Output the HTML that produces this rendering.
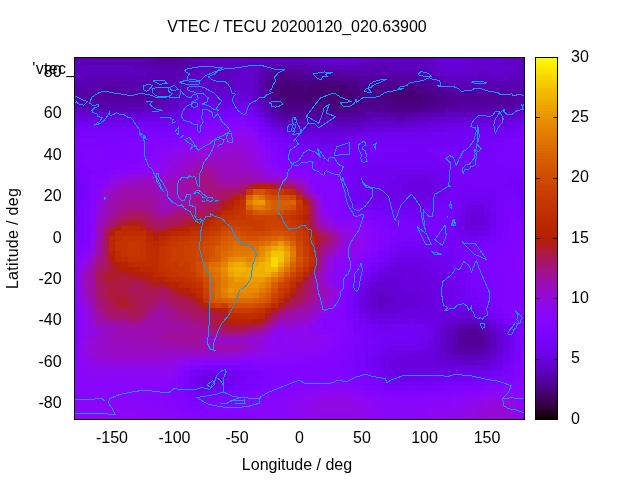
<!DOCTYPE html>
<html><head><meta charset="utf-8"><title>VTEC / TECU 20200120_020.63900</title>
<style>
html,body{margin:0;padding:0;background:#fff;}
body{width:640px;height:480px;overflow:hidden;}
svg{display:block}
text{font-family:"Liberation Sans",Arial,sans-serif;font-size:16px;fill:#000}
</style></head><body>
<svg width="640" height="480" viewBox="0 0 640 480">
<rect width="640" height="480" fill="#fff"/>
<text x="32.3" y="73.5" letter-spacing="0.35">'vtec_</text>
<g shape-rendering="crispEdges">
<path fill="#460074" d="M284 81h6v5h-6zM278 86h25v5h-25zM309 86h37v5h-37zM278 91h75v5h-75zM396 91h19v5h-19zM284 96h69v5h-69zM396 96h25v5h-25zM328 101h18v6h-18z"/>
<path fill="#4a007f" d="M278 76h12v5h-12zM271 81h13v5h-13zM290 81h56v5h-56zM271 86h7v5h-7zM303 86h6v5h-6zM346 86h13v5h-13zM396 86h19v5h-19zM271 91h7v5h-7zM353 91h12v5h-12zM384 91h12v5h-12zM415 91h13v5h-13zM278 96h6v5h-6zM353 96h12v5h-12zM378 96h18v5h-18zM421 96h13v5h-13zM278 101h50v6h-50zM346 101h13v6h-13zM390 101h38v6h-38zM334 107h12v5h-12z"/>
<path fill="#4d008b" d="M271 76h7v5h-7zM290 76h44v5h-44zM346 81h13v5h-13zM359 86h37v5h-37zM415 86h13v5h-13zM365 91h19v5h-19zM428 91h12v5h-12zM271 96h7v5h-7zM365 96h13v5h-13zM434 96h12v5h-12zM359 101h31v6h-31zM428 101h12v6h-12zM278 107h56v5h-56zM346 107h13v5h-13zM390 107h31v5h-31z"/>
<path fill="#510096" d="M271 70h32v6h-32zM334 76h25v5h-25zM265 81h6v5h-6zM359 81h69v5h-69zM265 86h6v5h-6zM428 86h12v5h-12zM265 91h6v5h-6zM440 91h13v5h-13zM446 96h57v5h-57zM271 101h7v6h-7zM440 101h19v6h-19zM359 107h31v5h-31zM421 107h13v5h-13zM284 112h75v5h-75zM465 329h13v5h-13zM465 334h19v5h-19zM465 339h19v6h-19z"/>
<path fill="#5400a0" d="M153 57h31v3h-31zM153 60h31v5h-31zM303 70h37v6h-37zM265 76h6v5h-6zM359 76h62v5h-62zM428 81h6v5h-6zM103 86h18v5h-18zM440 86h6v5h-6zM84 91h75v5h-75zM453 91h62v5h-62zM84 96h75v5h-75zM265 96h6v5h-6zM503 96h12v5h-12zM459 101h56v6h-56zM271 107h7v5h-7zM434 107h12v5h-12zM278 112h6v5h-6zM359 112h6v5h-6zM390 112h25v5h-25zM459 329h6v5h-6zM478 329h6v5h-6zM459 334h6v5h-6zM459 339h6v6h-6zM459 345h25v5h-25z"/>
<path fill="#5700ab" d="M84 57h69v3h-69zM184 57h12v3h-12zM84 60h69v5h-69zM184 60h12v5h-12zM159 65h25v5h-25zM271 65h38v5h-38zM265 70h6v6h-6zM340 70h75v6h-75zM421 76h7v5h-7zM90 81h75v5h-75zM259 81h6v5h-6zM434 81h6v5h-6zM78 86h25v5h-25zM121 86h50v5h-50zM259 86h6v5h-6zM446 86h75v5h-75zM74 91h10v5h-10zM159 91h12v5h-12zM515 91h10v5h-10zM74 96h10v5h-10zM159 96h6v5h-6zM515 96h10v5h-10zM84 101h75v6h-75zM265 101h6v6h-6zM515 101h6v6h-6zM446 107h63v5h-63zM365 112h25v5h-25zM415 112h13v5h-13zM284 117h75v5h-75zM465 324h13v5h-13zM453 334h6v5h-6zM484 334h6v5h-6zM453 339h6v6h-6zM484 339h6v6h-6zM453 345h6v5h-6zM484 345h6v5h-6zM459 350h19v5h-19z"/>
<path fill="#5a00b4" d="M74 57h10v3h-10zM196 57h7v3h-7zM521 57h4v3h-4zM74 60h10v5h-10zM196 60h7v5h-7zM521 60h4v5h-4zM134 65h25v5h-25zM184 65h12v5h-12zM265 65h6v5h-6zM309 65h25v5h-25zM365 65h25v5h-25zM146 70h38v6h-38zM259 70h6v6h-6zM415 70h13v6h-13zM84 76h94v5h-94zM259 76h6v5h-6zM428 76h12v5h-12zM74 81h16v5h-16zM165 81h13v5h-13zM440 81h85v5h-85zM74 86h4v5h-4zM171 86h7v5h-7zM521 86h4v5h-4zM171 91h7v5h-7zM259 91h6v5h-6zM165 96h6v5h-6zM259 96h6v5h-6zM74 101h10v6h-10zM159 101h6v6h-6zM521 101h4v6h-4zM96 107h32v5h-32zM265 107h6v5h-6zM509 107h6v5h-6zM271 112h7v5h-7zM428 112h18v5h-18zM278 117h6v5h-6zM359 117h12v5h-12zM396 117h7v5h-7zM459 324h6v5h-6zM478 324h6v5h-6zM453 329h6v5h-6zM484 329h6v5h-6zM453 350h6v5h-6zM478 350h6v5h-6z"/>
<path fill="#5d01be" d="M203 57h12v3h-12zM246 57h63v3h-63zM371 57h57v3h-57zM515 57h6v3h-6zM203 60h12v5h-12zM246 60h63v5h-63zM371 60h57v5h-57zM515 60h6v5h-6zM74 65h60v5h-60zM196 65h25v5h-25zM259 65h6v5h-6zM334 65h31v5h-31zM390 65h38v5h-38zM521 65h4v5h-4zM74 70h72v6h-72zM184 70h12v6h-12zM209 70h19v6h-19zM428 70h6v6h-6zM521 70h4v6h-4zM74 76h10v5h-10zM178 76h12v5h-12zM215 76h13v5h-13zM440 76h6v5h-6zM478 76h18v5h-18zM509 76h16v5h-16zM178 81h6v5h-6zM221 81h7v5h-7zM178 86h6v5h-6zM171 96h7v5h-7zM165 101h6v6h-6zM259 101h6v6h-6zM78 107h18v5h-18zM128 107h31v5h-31zM515 107h6v5h-6zM446 112h57v5h-57zM371 117h25v5h-25zM403 117h18v5h-18zM284 122h75v5h-75zM453 324h6v5h-6zM446 329h7v5h-7zM446 334h7v5h-7zM490 334h6v5h-6zM446 339h7v6h-7zM490 339h6v6h-6zM446 345h7v5h-7zM490 345h6v5h-6zM446 350h7v5h-7zM484 350h6v5h-6zM459 355h25v5h-25z"/>
<path fill="#6001c6" d="M215 57h31v3h-31zM309 57h12v3h-12zM359 57h12v3h-12zM428 57h6v3h-6zM503 57h12v3h-12zM215 60h31v5h-31zM309 60h12v5h-12zM359 60h12v5h-12zM428 60h6v5h-6zM503 60h12v5h-12zM221 65h38v5h-38zM428 65h6v5h-6zM515 65h6v5h-6zM196 70h13v6h-13zM228 70h12v6h-12zM253 70h6v6h-6zM434 70h6v6h-6zM478 70h12v6h-12zM503 70h18v6h-18zM190 76h25v5h-25zM228 76h6v5h-6zM253 76h6v5h-6zM446 76h32v5h-32zM496 76h13v5h-13zM184 81h6v5h-6zM209 81h12v5h-12zM228 81h6v5h-6zM253 81h6v5h-6zM184 86h6v5h-6zM215 86h19v5h-19zM253 86h6v5h-6zM178 91h6v5h-6zM253 91h6v5h-6zM178 96h6v5h-6zM171 101h7v6h-7zM74 107h4v5h-4zM159 107h12v5h-12zM521 107h4v5h-4zM265 112h6v5h-6zM503 112h12v5h-12zM271 117h7v5h-7zM421 117h13v5h-13zM278 122h6v5h-6zM359 122h6v5h-6zM378 293h6v5h-6zM378 298h12v5h-12zM378 303h6v5h-6zM459 319h19v5h-19zM446 324h7v5h-7zM484 324h6v5h-6zM490 329h6v5h-6zM440 345h6v5h-6zM490 350h6v5h-6zM446 355h13v5h-13zM484 355h6v5h-6zM465 360h13v5h-13z"/>
<path fill="#6301ce" d="M321 57h38v3h-38zM434 57h6v3h-6zM465 57h38v3h-38zM321 60h38v5h-38zM434 60h6v5h-6zM465 60h38v5h-38zM434 65h6v5h-6zM471 65h44v5h-44zM240 70h13v6h-13zM440 70h38v6h-38zM490 70h13v6h-13zM234 76h19v5h-19zM190 81h19v5h-19zM234 81h19v5h-19zM190 86h6v5h-6zM203 86h12v5h-12zM234 86h19v5h-19zM184 91h6v5h-6zM215 91h19v5h-19zM253 96h6v5h-6zM178 101h6v6h-6zM171 107h7v5h-7zM259 107h6v5h-6zM84 112h56v5h-56zM515 112h6v5h-6zM434 117h19v5h-19zM365 122h50v5h-50zM296 127h57v5h-57zM371 288h19v5h-19zM371 293h7v5h-7zM384 293h12v5h-12zM371 298h7v5h-7zM390 298h6v5h-6zM371 303h7v5h-7zM384 303h12v5h-12zM378 308h12v5h-12zM453 319h6v5h-6zM478 319h6v5h-6zM440 329h6v5h-6zM440 334h6v5h-6zM496 334h7v5h-7zM440 339h6v6h-6zM496 339h7v6h-7zM496 345h7v5h-7zM440 350h6v5h-6zM440 355h6v5h-6zM490 355h6v5h-6zM453 360h12v5h-12zM478 360h6v5h-6z"/>
<path fill="#6501d6" d="M440 57h25v3h-25zM440 60h25v5h-25zM440 65h31v5h-31zM196 86h7v5h-7zM190 91h6v5h-6zM203 91h12v5h-12zM234 91h19v5h-19zM184 96h6v5h-6zM215 96h19v5h-19zM246 96h7v5h-7zM253 101h6v6h-6zM74 112h10v5h-10zM140 112h31v5h-31zM521 112h4v5h-4zM265 117h6v5h-6zM453 117h56v5h-56zM271 122h7v5h-7zM415 122h13v5h-13zM284 127h12v5h-12zM353 127h12v5h-12zM471 215h7v5h-7zM471 220h7v6h-7zM384 277h19v5h-19zM371 282h32v6h-32zM390 288h13v5h-13zM365 293h6v5h-6zM396 293h25v5h-25zM365 298h6v5h-6zM396 298h25v5h-25zM365 303h6v5h-6zM396 303h25v5h-25zM371 308h7v5h-7zM390 308h13v5h-13zM459 313h12v6h-12zM446 319h7v5h-7zM484 319h6v5h-6zM440 324h6v5h-6zM490 324h6v5h-6zM496 329h7v5h-7zM434 345h6v5h-6zM434 350h6v5h-6zM496 350h7v5h-7zM434 355h6v5h-6zM434 360h19v5h-19zM484 360h6v5h-6z"/>
<path fill="#6801dd" d="M196 91h7v5h-7zM190 96h6v5h-6zM209 96h6v5h-6zM234 96h12v5h-12zM184 101h6v6h-6zM178 107h6v5h-6zM171 112h7v5h-7zM259 112h6v5h-6zM509 117h12v5h-12zM428 122h12v5h-12zM278 127h6v5h-6zM365 127h38v5h-38zM303 132h43v6h-43zM471 210h13v5h-13zM465 215h6v5h-6zM478 215h6v5h-6zM465 220h6v6h-6zM478 220h6v6h-6zM465 226h19v5h-19zM390 267h25v5h-25zM384 272h37v5h-37zM378 277h6v5h-6zM403 277h18v5h-18zM403 282h25v6h-25zM365 288h6v5h-6zM403 288h31v5h-31zM421 293h13v5h-13zM421 298h13v5h-13zM421 303h13v5h-13zM365 308h6v5h-6zM403 308h31v5h-31zM371 313h25v6h-25zM440 313h19v6h-19zM471 313h7v6h-7zM440 319h6v5h-6zM434 329h6v5h-6zM434 334h6v5h-6zM434 339h6v6h-6zM428 350h6v5h-6zM409 355h25v5h-25zM496 355h7v5h-7zM396 360h38v5h-38zM490 360h6v5h-6zM396 365h94v5h-94zM403 370h12v6h-12z"/>
<path fill="#6b01e3" d="M196 96h13v5h-13zM190 101h6v6h-6zM215 101h25v6h-25zM246 101h7v6h-7zM184 107h6v5h-6zM253 107h6v5h-6zM178 112h6v5h-6zM74 117h66v5h-66zM521 117h4v5h-4zM440 122h63v5h-63zM403 127h25v5h-25zM290 132h13v6h-13zM346 132h13v6h-13zM321 138h7v5h-7zM409 179h19v5h-19zM403 184h31v5h-31zM403 189h31v6h-31zM409 195h19v5h-19zM471 205h13v5h-13zM465 210h6v5h-6zM484 215h6v5h-6zM484 220h6v6h-6zM471 231h7v5h-7zM396 262h25v5h-25zM384 267h6v5h-6zM415 267h13v5h-13zM378 272h6v5h-6zM421 272h13v5h-13zM371 277h7v5h-7zM421 277h19v5h-19zM365 282h6v6h-6zM428 282h12v6h-12zM434 288h6v5h-6zM359 293h6v5h-6zM434 293h6v5h-6zM359 298h6v5h-6zM434 298h12v5h-12zM359 303h6v5h-6zM434 303h12v5h-12zM434 308h37v5h-37zM396 313h44v6h-44zM478 313h6v6h-6zM378 319h12v5h-12zM428 319h12v5h-12zM490 319h6v5h-6zM434 324h6v5h-6zM496 324h7v5h-7zM503 334h6v5h-6zM428 339h6v6h-6zM503 339h6v6h-6zM428 345h6v5h-6zM503 345h6v5h-6zM415 350h13v5h-13zM396 355h13v5h-13zM390 360h6v5h-6zM496 360h7v5h-7zM390 365h6v5h-6zM490 365h6v5h-6zM390 370h13v6h-13zM415 370h19v6h-19zM203 376h18v5h-18zM203 381h12v5h-12z"/>
<path fill="#6d02e9" d="M196 101h19v6h-19zM240 101h6v6h-6zM190 107h6v5h-6zM140 117h38v5h-38zM265 122h6v5h-6zM503 122h12v5h-12zM271 127h7v5h-7zM428 127h18v5h-18zM284 132h6v6h-6zM359 132h19v6h-19zM303 138h18v5h-18zM328 138h18v5h-18zM396 174h32v5h-32zM390 179h19v5h-19zM428 179h6v5h-6zM384 184h19v5h-19zM434 184h6v5h-6zM378 189h25v6h-25zM434 189h6v6h-6zM384 195h25v5h-25zM428 195h6v5h-6zM403 200h25v5h-25zM465 205h6v5h-6zM484 210h6v5h-6zM459 215h6v5h-6zM459 220h6v6h-6zM459 226h6v5h-6zM484 226h6v5h-6zM465 231h6v5h-6zM478 231h6v5h-6zM396 257h32v5h-32zM390 262h6v5h-6zM421 262h13v5h-13zM428 267h12v5h-12zM371 272h7v5h-7zM434 272h12v5h-12zM440 277h6v5h-6zM440 282h13v6h-13zM359 288h6v5h-6zM440 288h13v5h-13zM440 293h13v5h-13zM446 298h7v5h-7zM446 303h13v5h-13zM359 308h6v5h-6zM471 308h7v5h-7zM365 313h6v6h-6zM484 313h6v6h-6zM371 319h7v5h-7zM390 319h19v5h-19zM415 319h13v5h-13zM428 324h6v5h-6zM428 329h6v5h-6zM503 329h6v5h-6zM428 334h6v5h-6zM421 345h7v5h-7zM390 350h25v5h-25zM503 350h6v5h-6zM384 355h12v5h-12zM503 355h6v5h-6zM384 360h6v5h-6zM384 365h6v5h-6zM384 370h6v6h-6zM434 370h50v6h-50zM221 376h7v5h-7zM396 376h25v5h-25zM196 381h7v5h-7zM215 381h13v5h-13zM203 386h6v5h-6z"/>
<path fill="#7002ee" d="M196 107h7v5h-7zM215 107h13v5h-13zM246 107h7v5h-7zM184 112h6v5h-6zM253 112h6v5h-6zM178 117h6v5h-6zM259 117h6v5h-6zM103 122h18v5h-18zM515 122h6v5h-6zM446 127h63v5h-63zM278 132h6v6h-6zM378 132h56v6h-56zM296 138h7v5h-7zM346 138h19v5h-19zM315 143h25v5h-25zM365 169h6v5h-6zM378 169h56v5h-56zM359 174h37v5h-37zM428 174h12v5h-12zM359 179h31v5h-31zM434 179h12v5h-12zM359 184h25v5h-25zM440 184h6v5h-6zM359 189h19v6h-19zM440 189h6v6h-6zM365 195h19v5h-19zM434 195h6v5h-6zM371 200h32v5h-32zM428 200h6v5h-6zM465 200h25v5h-25zM403 205h25v5h-25zM459 205h6v5h-6zM484 205h6v5h-6zM459 210h6v5h-6zM490 215h6v5h-6zM459 231h6v5h-6zM484 231h6v5h-6zM465 236h13v5h-13zM396 251h38v6h-38zM390 257h6v5h-6zM428 257h12v5h-12zM384 262h6v5h-6zM434 262h12v5h-12zM378 267h6v5h-6zM440 267h13v5h-13zM446 272h7v5h-7zM365 277h6v5h-6zM446 277h7v5h-7zM359 282h6v6h-6zM453 282h6v6h-6zM453 288h6v5h-6zM453 293h6v5h-6zM453 298h6v5h-6zM459 303h12v5h-12zM478 308h6v5h-6zM359 313h6v6h-6zM365 319h6v5h-6zM409 319h6v5h-6zM378 324h18v5h-18zM421 324h7v5h-7zM421 334h7v5h-7zM421 339h7v6h-7zM390 345h31v5h-31zM384 350h6v5h-6zM378 355h6v5h-6zM378 360h6v5h-6zM503 360h6v5h-6zM378 365h6v5h-6zM496 365h7v5h-7zM203 370h18v6h-18zM484 370h6v6h-6zM196 376h7v5h-7zM228 376h6v5h-6zM390 376h6v5h-6zM421 376h19v5h-19zM196 386h7v5h-7zM209 386h12v5h-12z"/>
<path fill="#7202f3" d="M203 107h12v5h-12zM228 107h18v5h-18zM190 112h6v5h-6zM184 117h6v5h-6zM74 122h29v5h-29zM121 122h19v5h-19zM521 122h4v5h-4zM509 127h6v5h-6zM434 132h69v6h-69zM290 138h6v5h-6zM365 138h69v5h-69zM303 143h12v5h-12zM340 143h19v5h-19zM359 158h6v6h-6zM353 164h81v5h-81zM353 169h12v5h-12zM371 169h7v5h-7zM434 169h6v5h-6zM353 174h6v5h-6zM440 174h6v5h-6zM353 179h6v5h-6zM446 179h7v5h-7zM353 184h6v5h-6zM446 184h7v5h-7zM353 189h6v6h-6zM446 189h7v6h-7zM353 195h12v5h-12zM440 195h6v5h-6zM459 195h31v5h-31zM359 200h12v5h-12zM434 200h6v5h-6zM459 200h6v5h-6zM490 200h6v5h-6zM371 205h32v5h-32zM428 205h6v5h-6zM490 205h6v5h-6zM403 210h25v5h-25zM453 210h6v5h-6zM490 210h6v5h-6zM453 215h6v5h-6zM453 220h6v6h-6zM490 220h6v6h-6zM453 226h6v5h-6zM490 226h6v5h-6zM453 231h6v5h-6zM459 236h6v5h-6zM478 236h6v5h-6zM403 246h31v5h-31zM434 251h12v6h-12zM440 257h13v5h-13zM378 262h6v5h-6zM446 262h7v5h-7zM371 267h7v5h-7zM453 267h6v5h-6zM453 272h6v5h-6zM453 277h6v5h-6zM353 288h6v5h-6zM459 288h6v5h-6zM353 293h6v5h-6zM459 293h6v5h-6zM353 298h6v5h-6zM459 298h12v5h-12zM353 303h6v5h-6zM471 303h7v5h-7zM490 313h6v6h-6zM496 319h7v5h-7zM371 324h7v5h-7zM396 324h25v5h-25zM503 324h6v5h-6zM378 329h12v5h-12zM415 329h13v5h-13zM415 334h6v5h-6zM509 334h6v5h-6zM390 339h31v6h-31zM509 339h6v6h-6zM378 345h12v5h-12zM509 345h6v5h-6zM378 350h6v5h-6zM509 350h6v5h-6zM371 355h7v5h-7zM371 360h7v5h-7zM371 365h7v5h-7zM221 370h13v6h-13zM378 370h6v6h-6zM490 370h6v6h-6zM234 376h6v5h-6zM384 376h6v5h-6zM440 376h25v5h-25zM190 381h6v5h-6zM228 381h6v5h-6zM403 381h12v5h-12zM221 386h7v5h-7z"/>
<path fill="#7402f6" d="M196 112h7v5h-7zM140 122h44v5h-44zM259 122h6v5h-6zM265 127h6v5h-6zM515 127h6v5h-6zM271 132h7v6h-7zM503 132h12v6h-12zM284 138h6v5h-6zM434 138h69v5h-69zM296 143h7v5h-7zM359 143h131v5h-131zM309 148h62v5h-62zM409 148h19v5h-19zM459 148h19v5h-19zM340 153h94v5h-94zM346 158h13v6h-13zM365 158h75v6h-75zM346 164h7v5h-7zM434 164h12v5h-12zM346 169h7v5h-7zM440 169h19v5h-19zM346 174h7v5h-7zM446 174h13v5h-13zM74 179h4v5h-4zM346 179h7v5h-7zM453 179h12v5h-12zM509 179h16v5h-16zM74 184h4v5h-4zM346 184h7v5h-7zM453 184h18v5h-18zM503 184h22v5h-22zM74 189h4v6h-4zM346 189h7v6h-7zM453 189h43v6h-43zM515 189h10v6h-10zM74 195h4v5h-4zM346 195h7v5h-7zM446 195h13v5h-13zM490 195h6v5h-6zM521 195h4v5h-4zM74 200h4v5h-4zM346 200h13v5h-13zM440 200h19v5h-19zM521 200h4v5h-4zM74 205h4v5h-4zM365 205h6v5h-6zM434 205h6v5h-6zM453 205h6v5h-6zM521 205h4v5h-4zM384 210h19v5h-19zM428 210h6v5h-6zM409 215h12v5h-12zM490 231h6v5h-6zM453 236h6v5h-6zM484 236h6v5h-6zM403 241h68v5h-68zM396 246h7v5h-7zM434 246h19v5h-19zM390 251h6v6h-6zM446 251h7v6h-7zM384 257h6v5h-6zM453 257h6v5h-6zM453 262h6v5h-6zM459 267h6v5h-6zM365 272h6v5h-6zM459 272h6v5h-6zM359 277h6v5h-6zM459 277h6v5h-6zM459 282h6v6h-6zM465 288h6v5h-6zM465 293h6v5h-6zM471 298h7v5h-7zM478 303h6v5h-6zM353 308h6v5h-6zM484 308h6v5h-6zM359 319h6v5h-6zM365 324h6v5h-6zM371 329h7v5h-7zM390 329h25v5h-25zM509 329h6v5h-6zM371 334h44v5h-44zM378 339h12v6h-12zM371 345h7v5h-7zM371 350h7v5h-7zM365 355h6v5h-6zM509 355h6v5h-6zM365 360h6v5h-6zM365 365h6v5h-6zM503 365h6v5h-6zM196 370h7v6h-7zM234 370h6v6h-6zM371 370h7v6h-7zM496 370h7v6h-7zM190 376h6v5h-6zM240 376h6v5h-6zM378 376h6v5h-6zM465 376h19v5h-19zM234 381h6v5h-6zM390 381h13v5h-13zM415 381h19v5h-19zM190 386h6v5h-6zM228 386h6v5h-6zM196 391h19v5h-19z"/>
<path fill="#7703f9" d="M203 112h25v5h-25zM246 112h7v5h-7zM190 117h6v5h-6zM253 117h6v5h-6zM74 127h60v5h-60zM521 127h4v5h-4zM515 132h6v6h-6zM278 138h6v5h-6zM503 138h6v5h-6zM290 143h6v5h-6zM490 143h13v5h-13zM296 148h13v5h-13zM371 148h38v5h-38zM428 148h31v5h-31zM478 148h25v5h-25zM321 153h19v5h-19zM434 153h62v5h-62zM334 158h12v6h-12zM440 158h56v6h-56zM340 164h6v5h-6zM446 164h57v5h-57zM74 169h4v5h-4zM340 169h6v5h-6zM459 169h66v5h-66zM74 174h4v5h-4zM459 174h66v5h-66zM78 179h6v5h-6zM465 179h44v5h-44zM78 184h6v5h-6zM471 184h32v5h-32zM78 189h6v6h-6zM496 189h19v6h-19zM78 195h6v5h-6zM496 195h25v5h-25zM496 200h13v5h-13zM515 200h6v5h-6zM353 205h12v5h-12zM440 205h13v5h-13zM496 205h7v5h-7zM74 210h4v5h-4zM371 210h13v5h-13zM434 210h19v5h-19zM496 210h7v5h-7zM521 210h4v5h-4zM74 215h4v5h-4zM390 215h19v5h-19zM421 215h32v5h-32zM496 215h7v5h-7zM521 215h4v5h-4zM409 220h19v6h-19zM446 220h7v6h-7zM496 220h7v6h-7zM446 226h7v5h-7zM496 226h7v5h-7zM440 231h13v5h-13zM403 236h50v5h-50zM490 236h6v5h-6zM396 241h7v5h-7zM471 241h13v5h-13zM390 246h6v5h-6zM453 246h12v5h-12zM384 251h6v6h-6zM453 251h12v6h-12zM378 257h6v5h-6zM459 257h6v5h-6zM371 262h7v5h-7zM459 262h6v5h-6zM465 267h6v5h-6zM465 272h6v5h-6zM465 277h6v5h-6zM353 282h6v6h-6zM465 282h6v6h-6zM471 288h7v5h-7zM471 293h7v5h-7zM478 298h6v5h-6zM484 303h6v5h-6zM490 308h6v5h-6zM353 313h6v6h-6zM496 313h7v6h-7zM503 319h6v5h-6zM359 324h6v5h-6zM509 324h6v5h-6zM365 329h6v5h-6zM365 334h6v5h-6zM365 339h13v6h-13zM365 345h6v5h-6zM365 350h6v5h-6zM359 360h6v5h-6zM509 360h6v5h-6zM240 370h6v6h-6zM365 370h6v6h-6zM503 370h6v6h-6zM246 376h7v5h-7zM371 376h7v5h-7zM484 376h12v5h-12zM240 381h6v5h-6zM384 381h6v5h-6zM434 381h19v5h-19zM234 386h6v5h-6zM190 391h6v5h-6zM215 391h6v5h-6z"/>
<path fill="#7903fc" d="M228 112h18v5h-18zM196 117h7v5h-7zM184 122h6v5h-6zM134 127h44v5h-44zM74 132h4v6h-4zM90 132h38v6h-38zM521 132h4v6h-4zM509 138h12v5h-12zM284 143h6v5h-6zM503 143h12v5h-12zM290 148h6v5h-6zM503 148h6v5h-6zM296 153h25v5h-25zM496 153h13v5h-13zM328 158h6v6h-6zM496 158h19v6h-19zM74 164h4v5h-4zM334 164h6v5h-6zM503 164h22v5h-22zM78 169h6v5h-6zM78 174h6v5h-6zM84 179h6v5h-6zM84 184h6v5h-6zM78 200h6v5h-6zM509 200h6v5h-6zM78 205h6v5h-6zM346 205h7v5h-7zM503 205h18v5h-18zM78 210h6v5h-6zM365 210h6v5h-6zM503 210h6v5h-6zM78 215h6v5h-6zM378 215h12v5h-12zM74 220h10v6h-10zM396 220h13v6h-13zM428 220h18v6h-18zM521 220h4v6h-4zM78 226h6v5h-6zM403 226h43v5h-43zM403 231h37v5h-37zM496 231h7v5h-7zM396 236h7v5h-7zM390 241h6v5h-6zM484 241h6v5h-6zM465 246h13v5h-13zM465 251h6v6h-6zM465 257h6v5h-6zM465 262h6v5h-6zM365 267h6v5h-6zM471 267h7v5h-7zM359 272h6v5h-6zM471 272h7v5h-7zM471 277h7v5h-7zM471 282h13v6h-13zM478 288h6v5h-6zM346 293h7v5h-7zM478 293h6v5h-6zM346 298h7v5h-7zM484 298h6v5h-6zM346 303h7v5h-7zM353 319h6v5h-6zM359 329h6v5h-6zM359 334h6v5h-6zM515 334h6v5h-6zM359 339h6v6h-6zM515 339h6v6h-6zM359 345h6v5h-6zM515 345h6v5h-6zM359 350h6v5h-6zM359 355h6v5h-6zM209 365h19v5h-19zM359 365h6v5h-6zM509 365h6v5h-6zM190 370h6v6h-6zM246 370h7v6h-7zM359 370h6v6h-6zM253 376h6v5h-6zM365 376h6v5h-6zM496 376h7v5h-7zM184 381h6v5h-6zM246 381h7v5h-7zM378 381h6v5h-6zM453 381h18v5h-18zM184 386h6v5h-6zM240 386h6v5h-6zM396 386h32v5h-32zM221 391h7v5h-7zM196 396h13v5h-13z"/>
<path fill="#7b03fe" d="M203 117h12v5h-12zM246 117h7v5h-7zM190 122h6v5h-6zM178 127h6v5h-6zM259 127h6v5h-6zM78 132h12v6h-12zM128 132h12v6h-12zM265 132h6v6h-6zM96 138h25v5h-25zM271 138h7v5h-7zM278 143h6v5h-6zM515 143h6v5h-6zM284 148h6v5h-6zM509 148h12v5h-12zM290 153h6v5h-6zM509 153h12v5h-12zM74 158h4v6h-4zM303 158h25v6h-25zM515 158h10v6h-10zM78 164h6v5h-6zM328 164h6v5h-6zM84 169h6v5h-6zM334 169h6v5h-6zM84 174h6v5h-6zM84 189h6v6h-6zM84 195h6v5h-6zM359 210h6v5h-6zM509 210h12v5h-12zM371 215h7v5h-7zM503 215h6v5h-6zM515 215h6v5h-6zM384 220h12v6h-12zM503 220h6v6h-6zM74 226h4v5h-4zM390 226h13v5h-13zM503 226h6v5h-6zM521 226h4v5h-4zM78 231h6v5h-6zM396 231h7v5h-7zM78 236h6v5h-6zM390 236h6v5h-6zM496 236h7v5h-7zM490 241h6v5h-6zM384 246h6v5h-6zM478 246h12v5h-12zM378 251h6v6h-6zM471 251h7v6h-7zM471 257h7v5h-7zM471 262h13v5h-13zM478 267h6v5h-6zM478 272h12v5h-12zM353 277h6v5h-6zM478 277h12v5h-12zM484 282h6v6h-6zM346 288h7v5h-7zM484 288h6v5h-6zM484 293h6v5h-6zM490 298h6v5h-6zM490 303h6v5h-6zM346 308h7v5h-7zM496 308h7v5h-7zM346 313h7v6h-7zM503 313h6v6h-6zM509 319h6v5h-6zM353 324h6v5h-6zM353 329h6v5h-6zM515 329h6v5h-6zM353 345h6v5h-6zM353 350h6v5h-6zM515 350h6v5h-6zM353 355h6v5h-6zM515 355h6v5h-6zM353 360h6v5h-6zM203 365h6v5h-6zM228 365h12v5h-12zM353 365h6v5h-6zM253 370h6v6h-6zM353 370h6v6h-6zM509 370h6v6h-6zM184 376h6v5h-6zM259 376h6v5h-6zM253 381h6v5h-6zM371 381h7v5h-7zM471 381h13v5h-13zM246 386h7v5h-7zM384 386h12v5h-12zM428 386h18v5h-18zM184 391h6v5h-6zM228 391h6v5h-6zM190 396h6v5h-6zM209 396h12v5h-12z"/>
<path fill="#7d04ff" d="M215 117h13v5h-13zM196 122h7v5h-7zM253 122h6v5h-6zM184 127h6v5h-6zM140 132h31v6h-31zM74 138h22v5h-22zM121 138h19v5h-19zM521 138h4v5h-4zM74 143h54v5h-54zM521 143h4v5h-4zM74 148h4v5h-4zM103 148h25v5h-25zM278 148h6v5h-6zM521 148h4v5h-4zM74 153h10v5h-10zM109 153h12v5h-12zM284 153h6v5h-6zM521 153h4v5h-4zM78 158h6v6h-6zM290 158h13v6h-13zM84 164h6v5h-6zM321 164h7v5h-7zM90 169h6v5h-6zM328 169h6v5h-6zM340 174h6v5h-6zM340 179h6v5h-6zM340 184h6v5h-6zM340 189h6v6h-6zM340 195h6v5h-6zM84 200h6v5h-6zM340 200h6v5h-6zM340 205h6v5h-6zM346 210h13v5h-13zM365 215h6v5h-6zM509 215h6v5h-6zM378 220h6v6h-6zM509 220h12v6h-12zM384 226h6v5h-6zM74 231h4v5h-4zM390 231h6v5h-6zM503 231h6v5h-6zM521 231h4v5h-4zM503 236h6v5h-6zM78 241h6v5h-6zM384 241h6v5h-6zM496 241h13v5h-13zM490 246h13v5h-13zM478 251h18v6h-18zM371 257h7v5h-7zM478 257h18v5h-18zM365 262h6v5h-6zM484 262h12v5h-12zM359 267h6v5h-6zM484 267h12v5h-12zM490 272h13v5h-13zM490 277h13v5h-13zM346 282h7v6h-7zM490 282h13v6h-13zM490 288h13v5h-13zM490 293h13v5h-13zM496 298h7v5h-7zM496 303h7v5h-7zM346 319h7v5h-7zM515 324h6v5h-6zM353 334h6v5h-6zM353 339h6v6h-6zM346 350h7v5h-7zM346 355h7v5h-7zM340 360h13v5h-13zM515 360h6v5h-6zM196 365h7v5h-7zM240 365h13v5h-13zM340 365h13v5h-13zM259 370h12v6h-12zM346 370h7v6h-7zM265 376h6v5h-6zM359 376h6v5h-6zM503 376h6v5h-6zM259 381h12v5h-12zM365 381h6v5h-6zM484 381h12v5h-12zM253 386h6v5h-6zM378 386h6v5h-6zM446 386h13v5h-13zM234 391h12v5h-12zM184 396h6v5h-6zM221 396h7v5h-7zM190 401h19v6h-19z"/>
<path fill="#8004ff" d="M228 117h18v5h-18zM203 122h6v5h-6zM190 127h6v5h-6zM171 132h13v6h-13zM140 138h13v5h-13zM128 143h12v5h-12zM271 143h7v5h-7zM78 148h25v5h-25zM128 148h12v5h-12zM84 153h25v5h-25zM121 153h13v5h-13zM278 153h6v5h-6zM84 158h44v6h-44zM284 158h6v6h-6zM90 164h19v5h-19zM290 164h31v5h-31zM96 169h7v5h-7zM321 169h7v5h-7zM334 174h6v5h-6zM84 205h6v5h-6zM84 210h6v5h-6zM84 215h6v5h-6zM359 215h6v5h-6zM84 220h6v6h-6zM371 220h7v6h-7zM84 226h6v5h-6zM509 226h12v5h-12zM84 231h6v5h-6zM384 231h6v5h-6zM509 231h12v5h-12zM74 236h4v5h-4zM84 236h6v5h-6zM384 236h6v5h-6zM509 236h16v5h-16zM509 241h6v5h-6zM378 246h6v5h-6zM503 246h12v5h-12zM371 251h7v6h-7zM496 251h13v6h-13zM496 257h13v5h-13zM496 262h13v5h-13zM496 267h13v5h-13zM353 272h6v5h-6zM503 272h6v5h-6zM346 277h7v5h-7zM503 277h12v5h-12zM503 282h12v6h-12zM503 288h12v5h-12zM503 293h6v5h-6zM503 298h6v5h-6zM503 303h6v5h-6zM503 308h6v5h-6zM509 313h6v6h-6zM515 319h6v5h-6zM346 324h7v5h-7zM346 329h7v5h-7zM521 329h4v5h-4zM346 334h7v5h-7zM521 334h4v5h-4zM346 339h7v6h-7zM521 339h4v6h-4zM346 345h7v5h-7zM340 350h6v5h-6zM340 355h6v5h-6zM328 360h12v5h-12zM253 365h12v5h-12zM309 365h31v5h-31zM515 365h6v5h-6zM184 370h6v6h-6zM271 370h75v6h-75zM271 376h44v5h-44zM346 376h13v5h-13zM509 376h6v5h-6zM178 381h6v5h-6zM271 381h13v5h-13zM359 381h6v5h-6zM496 381h7v5h-7zM178 386h6v5h-6zM259 386h12v5h-12zM371 386h7v5h-7zM459 386h19v5h-19zM178 391h6v5h-6zM246 391h7v5h-7zM390 391h50v5h-50zM178 396h6v5h-6zM228 396h6v5h-6zM184 401h6v6h-6zM209 401h6v6h-6z"/>
<path fill="#8204ff" d="M209 122h12v5h-12zM246 122h7v5h-7zM196 127h7v5h-7zM253 127h6v5h-6zM184 132h6v6h-6zM259 132h6v6h-6zM153 138h18v5h-18zM265 138h6v5h-6zM140 143h13v5h-13zM140 148h6v5h-6zM271 148h7v5h-7zM134 153h6v5h-6zM128 158h12v6h-12zM278 158h6v6h-6zM109 164h19v5h-19zM284 164h6v5h-6zM103 169h6v5h-6zM309 169h12v5h-12zM90 174h13v5h-13zM328 174h6v5h-6zM90 179h6v5h-6zM90 184h6v5h-6zM90 189h6v6h-6zM90 195h6v5h-6zM340 210h6v5h-6zM353 215h6v5h-6zM378 226h6v5h-6zM378 231h6v5h-6zM74 241h4v5h-4zM84 241h6v5h-6zM378 241h6v5h-6zM515 241h10v5h-10zM78 246h6v5h-6zM515 246h6v5h-6zM509 251h6v6h-6zM365 257h6v5h-6zM509 257h6v5h-6zM359 262h6v5h-6zM509 262h6v5h-6zM509 267h6v5h-6zM509 272h6v5h-6zM515 277h6v5h-6zM515 282h6v6h-6zM515 288h10v5h-10zM340 293h6v5h-6zM509 293h16v5h-16zM340 298h6v5h-6zM509 298h6v5h-6zM340 303h6v5h-6zM509 303h6v5h-6zM340 308h6v5h-6zM509 308h6v5h-6zM340 313h6v6h-6zM515 313h6v6h-6zM521 319h4v5h-4zM521 324h4v5h-4zM340 339h6v6h-6zM340 345h6v5h-6zM521 345h4v5h-4zM334 350h6v5h-6zM521 350h4v5h-4zM328 355h12v5h-12zM315 360h13v5h-13zM190 365h6v5h-6zM265 365h44v5h-44zM515 370h6v6h-6zM178 376h6v5h-6zM315 376h31v5h-31zM284 381h25v5h-25zM353 381h6v5h-6zM503 381h6v5h-6zM271 386h13v5h-13zM365 386h6v5h-6zM478 386h6v5h-6zM171 391h7v5h-7zM253 391h12v5h-12zM378 391h12v5h-12zM440 391h13v5h-13zM171 396h7v5h-7zM234 396h12v5h-12zM178 401h6v6h-6zM215 401h6v6h-6zM184 407h25v5h-25z"/>
<path fill="#8405fe" d="M221 122h7v5h-7zM203 127h6v5h-6zM190 132h6v6h-6zM171 138h7v5h-7zM153 143h6v5h-6zM265 143h6v5h-6zM146 148h7v5h-7zM140 153h6v5h-6zM271 153h7v5h-7zM140 158h6v6h-6zM271 158h7v6h-7zM128 164h12v5h-12zM278 164h6v5h-6zM109 169h6v5h-6zM296 169h13v5h-13zM103 174h6v5h-6zM315 174h13v5h-13zM96 179h7v5h-7zM309 179h31v5h-31zM96 184h7v5h-7zM315 184h25v5h-25zM315 189h25v6h-25zM321 195h19v5h-19zM90 200h6v5h-6zM328 200h12v5h-12zM90 205h6v5h-6zM328 205h12v5h-12zM328 210h12v5h-12zM334 215h19v5h-19zM365 220h6v6h-6zM371 226h7v5h-7zM378 236h6v5h-6zM74 246h4v5h-4zM371 246h7v5h-7zM521 246h4v5h-4zM78 251h6v6h-6zM515 251h6v6h-6zM515 257h6v5h-6zM515 262h6v5h-6zM353 267h6v5h-6zM515 267h6v5h-6zM346 272h7v5h-7zM515 272h6v5h-6zM340 277h6v5h-6zM521 277h4v5h-4zM340 282h6v6h-6zM521 282h4v6h-4zM340 288h6v5h-6zM515 298h10v5h-10zM515 303h10v5h-10zM334 308h6v5h-6zM515 308h10v5h-10zM328 313h12v6h-12zM521 313h4v6h-4zM74 319h4v5h-4zM321 319h25v5h-25zM74 324h4v5h-4zM321 324h25v5h-25zM74 329h4v5h-4zM340 329h6v5h-6zM74 334h4v5h-4zM340 334h6v5h-6zM74 339h4v6h-4zM334 345h6v5h-6zM328 350h6v5h-6zM321 355h7v5h-7zM521 355h4v5h-4zM240 360h13v5h-13zM290 360h25v5h-25zM515 376h6v5h-6zM171 381h7v5h-7zM309 381h19v5h-19zM346 381h7v5h-7zM509 381h6v5h-6zM171 386h7v5h-7zM284 386h19v5h-19zM359 386h6v5h-6zM484 386h12v5h-12zM165 391h6v5h-6zM265 391h19v5h-19zM371 391h7v5h-7zM453 391h12v5h-12zM165 396h6v5h-6zM246 396h19v5h-19zM390 396h38v5h-38zM165 401h13v6h-13zM221 401h13v6h-13zM178 407h6v5h-6zM209 407h12v5h-12zM190 412h44v5h-44zM190 417h44v3h-44z"/>
<path fill="#8605fc" d="M228 122h18v5h-18zM209 127h6v5h-6zM196 132h7v6h-7zM178 138h12v5h-12zM259 138h6v5h-6zM159 143h12v5h-12zM153 148h6v5h-6zM265 148h6v5h-6zM146 153h7v5h-7zM146 158h7v6h-7zM140 164h6v5h-6zM115 169h13v5h-13zM290 169h6v5h-6zM309 174h6v5h-6zM90 210h6v5h-6zM90 215h6v5h-6zM359 220h6v6h-6zM371 231h7v5h-7zM371 236h7v5h-7zM371 241h7v5h-7zM84 246h6v5h-6zM74 251h4v6h-4zM365 251h6v6h-6zM521 251h4v6h-4zM74 257h4v5h-4zM359 257h6v5h-6zM521 257h4v5h-4zM74 262h4v5h-4zM353 262h6v5h-6zM521 262h4v5h-4zM74 267h4v5h-4zM346 267h7v5h-7zM521 267h4v5h-4zM74 272h4v5h-4zM340 272h6v5h-6zM521 272h4v5h-4zM74 277h4v5h-4zM74 282h4v6h-4zM74 288h4v5h-4zM74 293h4v5h-4zM74 298h4v5h-4zM74 303h4v5h-4zM74 308h4v5h-4zM74 313h4v6h-4zM328 329h12v5h-12zM334 334h6v5h-6zM334 339h6v6h-6zM74 345h4v5h-4zM328 345h6v5h-6zM74 350h4v5h-4zM321 350h7v5h-7zM303 355h18v5h-18zM203 360h37v5h-37zM253 360h37v5h-37zM521 360h4v5h-4zM184 365h6v5h-6zM521 365h4v5h-4zM178 370h6v6h-6zM328 381h18v5h-18zM515 381h6v5h-6zM140 386h31v5h-31zM303 386h12v5h-12zM353 386h6v5h-6zM496 386h7v5h-7zM140 391h25v5h-25zM284 391h12v5h-12zM365 391h6v5h-6zM465 391h13v5h-13zM146 396h19v5h-19zM265 396h13v5h-13zM378 396h12v5h-12zM428 396h25v5h-25zM153 401h12v6h-12zM234 401h25v6h-25zM165 407h13v5h-13zM221 407h19v5h-19zM178 412h12v5h-12zM234 412h25v5h-25zM178 417h12v3h-12zM234 417h25v3h-25z"/>
<path fill="#8806f9" d="M215 127h6v5h-6zM246 127h7v5h-7zM203 132h6v6h-6zM253 132h6v6h-6zM190 138h6v5h-6zM171 143h7v5h-7zM159 148h6v5h-6zM153 153h6v5h-6zM265 153h6v5h-6zM146 164h7v5h-7zM271 164h7v5h-7zM128 169h12v5h-12zM284 169h6v5h-6zM109 174h6v5h-6zM340 220h6v6h-6zM353 220h6v6h-6zM365 226h6v5h-6zM365 246h6v5h-6zM359 251h6v6h-6zM78 257h6v5h-6zM321 329h7v5h-7zM328 334h6v5h-6zM328 339h6v6h-6zM321 345h7v5h-7zM315 350h6v5h-6zM74 355h4v5h-4zM284 355h19v5h-19zM74 360h4v5h-4zM196 360h7v5h-7zM74 365h4v5h-4zM74 370h4v6h-4zM521 370h4v6h-4zM74 376h10v5h-10zM171 376h7v5h-7zM521 376h4v5h-4zM74 381h97v5h-97zM521 381h4v5h-4zM74 386h66v5h-66zM315 386h19v5h-19zM346 386h7v5h-7zM503 386h22v5h-22zM74 391h66v5h-66zM296 391h7v5h-7zM359 391h6v5h-6zM478 391h6v5h-6zM521 391h4v5h-4zM74 396h72v5h-72zM278 396h12v5h-12zM371 396h7v5h-7zM453 396h12v5h-12zM521 396h4v5h-4zM134 401h19v6h-19zM259 401h25v6h-25zM384 401h50v6h-50zM521 401h4v6h-4zM146 407h19v5h-19zM240 407h38v5h-38zM165 412h13v5h-13zM259 412h25v5h-25zM390 412h25v5h-25zM165 417h13v3h-13zM259 417h25v3h-25zM390 417h25v3h-25z"/>
<path fill="#8a06f6" d="M221 127h25v5h-25zM209 132h6v6h-6zM196 138h7v5h-7zM178 143h6v5h-6zM259 143h6v5h-6zM165 148h6v5h-6zM159 153h6v5h-6zM153 158h6v6h-6zM265 158h6v6h-6zM140 169h6v5h-6zM278 169h6v5h-6zM296 174h13v5h-13zM103 179h6v5h-6zM103 184h6v5h-6zM309 184h6v5h-6zM96 189h7v6h-7zM96 195h7v5h-7zM321 200h7v5h-7zM321 205h7v5h-7zM321 210h7v5h-7zM328 215h6v5h-6zM90 220h6v6h-6zM334 220h6v6h-6zM346 220h7v6h-7zM90 226h6v5h-6zM359 226h6v5h-6zM90 231h6v5h-6zM365 231h6v5h-6zM365 236h6v5h-6zM365 241h6v5h-6zM84 251h6v6h-6zM334 257h6v5h-6zM353 257h6v5h-6zM334 262h19v5h-19zM334 267h12v5h-12zM328 272h12v5h-12zM328 277h12v5h-12zM334 282h6v6h-6zM334 298h6v5h-6zM334 303h6v5h-6zM328 308h6v5h-6zM78 313h6v6h-6zM321 313h7v6h-7zM78 319h6v5h-6zM315 319h6v5h-6zM78 324h6v5h-6zM309 324h12v5h-12zM78 329h6v5h-6zM309 329h12v5h-12zM78 334h6v5h-6zM278 334h6v5h-6zM278 339h6v6h-6zM321 339h7v6h-7zM315 345h6v5h-6zM284 350h31v5h-31zM259 355h25v5h-25zM190 360h6v5h-6zM78 365h6v5h-6zM178 365h6v5h-6zM78 370h12v6h-12zM171 370h7v6h-7zM84 376h87v5h-87zM334 386h12v5h-12zM303 391h12v5h-12zM353 391h6v5h-6zM484 391h12v5h-12zM515 391h6v5h-6zM290 396h13v5h-13zM365 396h6v5h-6zM465 396h6v5h-6zM74 401h60v6h-60zM284 401h6v6h-6zM371 401h13v6h-13zM434 401h19v6h-19zM74 407h35v5h-35zM121 407h25v5h-25zM278 407h12v5h-12zM384 407h44v5h-44zM521 407h4v5h-4zM140 412h25v5h-25zM284 412h12v5h-12zM378 412h12v5h-12zM415 412h13v5h-13zM140 417h25v3h-25zM284 417h12v3h-12zM378 417h12v3h-12zM415 417h13v3h-13z"/>
<path fill="#8c07f3" d="M215 132h6v6h-6zM246 132h7v6h-7zM203 138h6v5h-6zM253 138h6v5h-6zM184 143h12v5h-12zM171 148h7v5h-7zM259 148h6v5h-6zM165 153h6v5h-6zM259 153h6v5h-6zM159 158h6v6h-6zM153 164h6v5h-6zM265 164h6v5h-6zM146 169h7v5h-7zM353 226h6v5h-6zM359 231h6v5h-6zM90 236h6v5h-6zM359 241h6v5h-6zM359 246h6v5h-6zM353 251h6v6h-6zM340 257h13v5h-13zM78 262h6v5h-6zM78 308h6v5h-6zM278 329h6v5h-6zM271 334h7v5h-7zM284 334h6v5h-6zM321 334h7v5h-7zM78 339h6v6h-6zM271 339h7v6h-7zM284 339h12v6h-12zM315 339h6v6h-6zM78 345h6v5h-6zM271 345h44v5h-44zM271 350h13v5h-13zM78 355h6v5h-6zM246 355h13v5h-13zM78 360h6v5h-6zM184 360h6v5h-6zM84 365h6v5h-6zM90 370h69v6h-69zM165 370h6v6h-6zM315 391h19v5h-19zM340 391h13v5h-13zM496 391h19v5h-19zM303 396h6v5h-6zM359 396h6v5h-6zM471 396h13v5h-13zM515 396h6v5h-6zM290 401h13v6h-13zM365 401h6v6h-6zM453 401h12v6h-12zM109 407h12v5h-12zM290 407h6v5h-6zM371 407h13v5h-13zM428 407h25v5h-25zM74 412h66v5h-66zM296 412h7v5h-7zM371 412h7v5h-7zM428 412h12v5h-12zM521 412h4v5h-4zM74 417h66v3h-66zM296 417h7v3h-7zM371 417h7v3h-7zM428 417h12v3h-12zM521 417h4v3h-4z"/>
<path fill="#8e07ee" d="M221 132h13v6h-13zM240 132h6v6h-6zM209 138h6v5h-6zM196 143h7v5h-7zM253 143h6v5h-6zM178 148h6v5h-6zM259 158h6v6h-6zM159 164h6v5h-6zM153 169h6v5h-6zM271 169h7v5h-7zM115 174h13v5h-13zM340 226h13v5h-13zM353 231h6v5h-6zM359 236h6v5h-6zM90 241h6v5h-6zM353 246h6v5h-6zM346 251h7v6h-7zM84 257h6v5h-6zM78 303h6v5h-6zM84 319h6v5h-6zM84 324h6v5h-6zM296 329h13v5h-13zM290 334h13v5h-13zM309 334h12v5h-12zM296 339h19v6h-19zM265 345h6v5h-6zM78 350h6v5h-6zM265 350h6v5h-6zM234 355h12v5h-12zM84 360h6v5h-6zM90 365h6v5h-6zM171 365h7v5h-7zM159 370h6v6h-6zM334 391h6v5h-6zM309 396h12v5h-12zM353 396h6v5h-6zM484 396h6v5h-6zM303 401h6v6h-6zM359 401h6v6h-6zM465 401h6v6h-6zM515 401h6v6h-6zM296 407h13v5h-13zM365 407h6v5h-6zM453 407h12v5h-12zM303 412h12v5h-12zM359 412h12v5h-12zM440 412h13v5h-13zM303 417h12v3h-12zM359 417h12v3h-12zM440 417h13v3h-13z"/>
<path fill="#8f08e9" d="M234 132h6v6h-6zM215 138h6v5h-6zM246 138h7v5h-7zM203 143h6v5h-6zM184 148h12v5h-12zM253 148h6v5h-6zM171 153h7v5h-7zM165 158h6v6h-6zM259 164h6v5h-6zM159 169h6v5h-6zM278 174h6v5h-6zM290 174h6v5h-6zM353 236h6v5h-6zM353 241h6v5h-6zM90 246h6v5h-6zM346 246h7v5h-7zM340 251h6v6h-6zM78 267h6v5h-6zM78 298h6v5h-6zM84 313h6v6h-6zM84 329h12v5h-12zM271 329h7v5h-7zM284 329h12v5h-12zM84 334h6v5h-6zM303 334h6v5h-6zM265 339h6v6h-6zM259 350h6v5h-6zM84 355h6v5h-6zM221 355h13v5h-13zM178 360h6v5h-6zM96 365h75v5h-75zM321 396h32v5h-32zM490 396h25v5h-25zM309 401h12v6h-12zM353 401h6v6h-6zM471 401h13v6h-13zM309 407h6v5h-6zM353 407h12v5h-12zM465 407h6v5h-6zM515 407h6v5h-6zM315 412h44v5h-44zM453 412h12v5h-12zM515 412h6v5h-6zM315 417h44v3h-44zM453 417h12v3h-12zM515 417h6v3h-6z"/>
<path fill="#9109e3" d="M221 138h25v5h-25zM209 143h12v5h-12zM246 143h7v5h-7zM196 148h7v5h-7zM178 153h12v5h-12zM253 153h6v5h-6zM171 158h7v6h-7zM253 158h6v6h-6zM165 164h6v5h-6zM165 169h6v5h-6zM265 169h6v5h-6zM128 174h18v5h-18zM265 174h13v5h-13zM109 179h12v5h-12zM303 179h6v5h-6zM109 184h6v5h-6zM309 189h6v6h-6zM315 195h6v5h-6zM96 200h7v5h-7zM96 205h7v5h-7zM96 210h7v5h-7zM321 215h7v5h-7zM328 220h6v6h-6zM346 231h7v5h-7zM346 236h7v5h-7zM346 241h7v5h-7zM328 257h6v5h-6zM328 262h6v5h-6zM328 267h6v5h-6zM78 272h6v5h-6zM328 282h6v6h-6zM334 288h6v5h-6zM78 293h6v5h-6zM334 293h6v5h-6zM328 298h6v5h-6zM328 303h6v5h-6zM84 308h6v5h-6zM321 308h7v5h-7zM315 313h6v6h-6zM309 319h6v5h-6zM278 324h6v5h-6zM296 324h13v5h-13zM265 334h6v5h-6zM84 339h6v6h-6zM84 345h6v5h-6zM259 345h6v5h-6zM84 350h6v5h-6zM253 350h6v5h-6zM190 355h31v5h-31zM90 360h13v5h-13zM171 360h7v5h-7zM321 401h32v6h-32zM484 401h6v6h-6zM509 401h6v6h-6zM315 407h38v5h-38zM471 407h7v5h-7zM465 412h13v5h-13zM465 417h13v3h-13z"/>
<path fill="#9309dd" d="M221 143h13v5h-13zM240 143h6v5h-6zM203 148h12v5h-12zM246 148h7v5h-7zM190 153h6v5h-6zM178 158h6v6h-6zM171 164h7v5h-7zM253 164h6v5h-6zM146 174h19v5h-19zM284 174h6v5h-6zM334 226h6v5h-6zM340 231h6v5h-6zM340 246h6v5h-6zM84 262h6v5h-6zM78 277h6v5h-6zM78 282h6v6h-6zM78 288h6v5h-6zM96 329h7v5h-7zM90 334h6v5h-6zM253 339h12v6h-12zM246 350h7v5h-7zM90 355h6v5h-6zM184 355h6v5h-6zM103 360h68v5h-68zM490 401h19v6h-19zM478 407h12v5h-12zM509 407h6v5h-6zM478 412h6v5h-6zM509 412h6v5h-6zM478 417h6v3h-6zM509 417h6v3h-6z"/>
<path fill="#950ad6" d="M234 143h6v5h-6zM215 148h19v5h-19zM240 148h6v5h-6zM196 153h13v5h-13zM246 153h7v5h-7zM184 158h6v6h-6zM246 158h7v6h-7zM178 164h6v5h-6zM171 169h7v5h-7zM259 169h6v5h-6zM165 174h6v5h-6zM340 236h6v5h-6zM340 241h6v5h-6zM90 251h6v6h-6zM334 251h6v6h-6zM84 303h6v5h-6zM90 324h6v5h-6zM90 339h6v6h-6zM246 339h7v6h-7zM90 345h6v5h-6zM253 345h6v5h-6zM90 350h6v5h-6zM240 350h6v5h-6zM96 355h13v5h-13zM165 355h19v5h-19zM490 407h19v5h-19zM484 412h25v5h-25zM484 417h25v3h-25z"/>
<path fill="#970bce" d="M234 148h6v5h-6zM209 153h37v5h-37zM190 158h6v6h-6zM240 158h6v6h-6zM184 164h6v5h-6zM246 164h7v5h-7zM178 169h6v5h-6zM253 169h6v5h-6zM259 174h6v5h-6zM121 179h13v5h-13zM296 179h7v5h-7zM115 184h6v5h-6zM303 184h6v5h-6zM103 189h6v6h-6zM103 195h6v5h-6zM103 200h6v5h-6zM315 200h6v5h-6zM96 215h7v5h-7zM96 220h7v6h-7zM321 220h7v6h-7zM328 226h6v5h-6zM84 267h6v5h-6zM321 267h7v5h-7zM321 272h7v5h-7zM321 277h7v5h-7zM321 282h7v6h-7zM328 288h6v5h-6zM328 293h6v5h-6zM84 298h6v5h-6zM321 298h7v5h-7zM321 303h7v5h-7zM315 308h6v5h-6zM309 313h6v6h-6zM90 319h6v5h-6zM296 319h13v5h-13zM284 324h12v5h-12zM96 334h7v5h-7zM259 334h6v5h-6zM96 339h7v6h-7zM203 339h43v6h-43zM96 345h7v5h-7zM96 350h7v5h-7zM234 350h6v5h-6zM109 355h56v5h-56z"/>
<path fill="#990cc6" d="M196 158h44v6h-44zM221 164h25v5h-25zM246 169h7v5h-7zM171 174h13v5h-13zM334 246h6v5h-6zM328 251h6v6h-6zM90 313h6v6h-6zM103 329h12v5h-12zM265 329h6v5h-6zM103 334h6v5h-6zM253 334h6v5h-6zM103 339h6v6h-6zM103 345h6v5h-6zM246 345h7v5h-7zM103 350h131v5h-131z"/>
<path fill="#9a0dbe" d="M190 164h6v5h-6zM215 164h6v5h-6zM184 169h6v5h-6zM221 169h25v5h-25zM184 174h6v5h-6zM221 174h13v5h-13zM253 174h6v5h-6zM134 179h44v5h-44zM290 179h6v5h-6zM121 184h50v5h-50zM109 189h12v6h-12zM153 189h18v6h-18zM109 195h6v5h-6zM159 195h19v5h-19zM159 200h19v5h-19zM103 205h6v5h-6zM159 205h12v5h-12zM315 205h6v5h-6zM103 210h6v5h-6zM315 210h6v5h-6zM96 226h7v5h-7zM96 231h7v5h-7zM334 231h6v5h-6zM96 236h7v5h-7zM90 257h6v5h-6zM321 257h7v5h-7zM321 262h7v5h-7zM84 272h6v5h-6zM321 288h7v5h-7zM84 293h6v5h-6zM321 293h7v5h-7zM315 303h6v5h-6zM90 308h6v5h-6zM309 308h6v5h-6zM296 313h13v6h-13zM278 319h18v5h-18zM96 324h19v5h-19zM271 324h7v5h-7zM109 334h6v5h-6zM203 334h12v5h-12zM246 334h7v5h-7zM109 339h25v6h-25zM109 345h50v5h-50z"/>
<path fill="#9c0db4" d="M196 164h7v5h-7zM209 164h6v5h-6zM190 169h6v5h-6zM215 169h6v5h-6zM234 174h19v5h-19zM334 241h6v5h-6zM90 262h6v5h-6zM84 277h6v5h-6zM84 282h6v6h-6zM84 288h6v5h-6zM90 303h6v5h-6zM115 329h44v5h-44zM115 334h31v5h-31zM134 339h25v6h-25zM159 345h31v5h-31zM240 345h6v5h-6z"/>
<path fill="#9e0eab" d="M203 164h6v5h-6zM190 174h6v5h-6zM215 174h6v5h-6zM178 179h6v5h-6zM221 179h69v5h-69zM171 184h19v5h-19zM296 184h7v5h-7zM121 189h32v6h-32zM171 189h19v6h-19zM303 189h6v6h-6zM115 195h44v5h-44zM178 195h12v5h-12zM309 195h6v5h-6zM109 200h12v5h-12zM153 200h6v5h-6zM178 200h6v5h-6zM109 205h6v5h-6zM153 205h6v5h-6zM171 205h7v5h-7zM109 210h6v5h-6zM159 210h12v5h-12zM103 215h6v5h-6zM315 215h6v5h-6zM103 220h6v6h-6zM315 220h6v6h-6zM321 226h7v5h-7zM334 236h6v5h-6zM96 241h7v5h-7zM96 246h7v5h-7zM328 246h6v5h-6zM96 251h7v6h-7zM315 272h6v5h-6zM315 277h6v5h-6zM315 282h6v6h-6zM315 288h6v5h-6zM315 293h6v5h-6zM90 298h6v5h-6zM315 298h6v5h-6zM309 303h6v5h-6zM296 308h13v5h-13zM96 313h7v6h-7zM153 313h12v6h-12zM284 313h12v6h-12zM96 319h13v5h-13zM146 319h25v5h-25zM115 324h69v5h-69zM159 329h6v5h-6zM259 329h6v5h-6zM146 334h13v5h-13zM215 334h31v5h-31zM159 339h19v6h-19zM190 345h50v5h-50z"/>
<path fill="#a00fa0" d="M209 169h6v5h-6zM184 179h6v5h-6zM215 179h6v5h-6zM190 184h6v5h-6zM321 251h7v6h-7zM90 267h6v5h-6zM90 277h6v5h-6zM90 282h6v6h-6zM90 288h6v5h-6zM90 293h6v5h-6zM165 329h38v5h-38zM159 334h12v5h-12zM178 339h25v6h-25z"/>
<path fill="#a11096" d="M196 169h13v5h-13zM209 174h6v5h-6zM190 179h6v5h-6zM221 184h19v5h-19zM190 189h6v6h-6zM190 195h13v5h-13zM121 200h32v5h-32zM184 200h12v5h-12zM115 205h38v5h-38zM178 205h12v5h-12zM115 210h6v5h-6zM153 210h6v5h-6zM171 210h7v5h-7zM109 215h6v5h-6zM159 215h6v5h-6zM328 231h6v5h-6zM90 272h6v5h-6zM309 298h6v5h-6zM159 303h6v5h-6zM303 303h6v5h-6zM96 308h7v5h-7zM153 308h18v5h-18zM290 308h6v5h-6zM146 313h7v6h-7zM165 313h13v6h-13zM278 313h6v6h-6zM109 319h19v5h-19zM140 319h6v5h-6zM171 319h19v5h-19zM271 319h7v5h-7zM184 324h19v5h-19zM265 324h6v5h-6zM203 329h6v5h-6zM253 329h6v5h-6zM171 334h32v5h-32z"/>
<path fill="#a3118b" d="M196 174h13v5h-13zM196 179h7v5h-7zM209 179h6v5h-6zM215 184h6v5h-6zM196 189h13v6h-13zM328 241h6v5h-6zM321 246h7v5h-7z"/>
<path fill="#a5127f" d="M203 179h6v5h-6zM196 184h19v5h-19zM240 184h6v5h-6zM215 189h6v6h-6zM203 195h12v5h-12zM196 200h13v5h-13zM309 200h6v5h-6zM190 205h13v5h-13zM121 210h7v5h-7zM146 210h7v5h-7zM178 210h12v5h-12zM115 215h6v5h-6zM153 215h6v5h-6zM165 215h6v5h-6zM109 220h6v6h-6zM103 226h6v5h-6zM315 226h6v5h-6zM328 236h6v5h-6zM96 257h7v5h-7zM96 262h7v5h-7zM315 267h6v5h-6zM309 282h6v6h-6zM309 288h6v5h-6zM309 293h6v5h-6zM96 298h7v5h-7zM159 298h6v5h-6zM303 298h6v5h-6zM96 303h7v5h-7zM153 303h6v5h-6zM165 303h6v5h-6zM296 303h7v5h-7zM146 308h7v5h-7zM171 308h7v5h-7zM284 308h6v5h-6zM103 313h6v6h-6zM178 313h12v6h-12zM128 319h12v5h-12zM190 319h13v5h-13zM203 324h6v5h-6zM209 329h12v5h-12zM246 329h7v5h-7z"/>
<path fill="#a61474" d="M209 189h6v6h-6zM321 231h7v5h-7z"/>
<path fill="#a81568" d="M290 184h6v5h-6zM221 189h13v6h-13zM215 195h6v5h-6zM209 200h6v5h-6zM203 205h6v5h-6zM309 205h6v5h-6zM128 210h18v5h-18zM190 210h13v5h-13zM121 215h7v5h-7zM146 215h7v5h-7zM171 215h13v5h-13zM153 220h12v6h-12zM103 231h6v5h-6zM321 241h7v5h-7zM96 267h7v5h-7zM309 277h6v5h-6zM96 282h7v6h-7zM96 288h7v5h-7zM96 293h7v5h-7zM159 293h6v5h-6zM303 293h6v5h-6zM103 298h6v5h-6zM153 298h6v5h-6zM165 298h6v5h-6zM103 303h6v5h-6zM146 303h7v5h-7zM171 303h7v5h-7zM103 308h12v5h-12zM178 308h12v5h-12zM109 313h19v6h-19zM140 313h6v6h-6zM190 313h13v6h-13zM271 313h7v6h-7zM203 319h6v5h-6zM209 324h6v5h-6zM259 324h6v5h-6zM221 329h25v5h-25z"/>
<path fill="#a9165b" d="M284 184h6v5h-6zM234 189h6v6h-6zM296 189h7v6h-7zM221 195h7v5h-7zM303 195h6v5h-6zM215 200h6v5h-6zM209 205h6v5h-6zM203 210h6v5h-6zM309 210h6v5h-6zM128 215h18v5h-18zM184 215h12v5h-12zM309 215h6v5h-6zM115 220h6v6h-6zM146 220h7v6h-7zM165 220h13v6h-13zM309 220h6v6h-6zM103 236h6v5h-6zM103 241h6v5h-6zM103 246h6v5h-6zM103 251h6v6h-6zM103 257h6v5h-6zM315 257h6v5h-6zM103 262h6v5h-6zM315 262h6v5h-6zM96 272h7v5h-7zM96 277h7v5h-7zM134 282h6v6h-6zM128 288h12v5h-12zM159 288h6v5h-6zM303 288h6v5h-6zM140 293h19v5h-19zM165 293h6v5h-6zM140 298h13v5h-13zM171 298h7v5h-7zM296 298h7v5h-7zM109 303h6v5h-6zM140 303h6v5h-6zM178 303h12v5h-12zM290 303h6v5h-6zM115 308h13v5h-13zM140 308h6v5h-6zM190 308h13v5h-13zM278 308h6v5h-6zM128 313h12v6h-12zM203 313h12v6h-12zM265 319h6v5h-6z"/>
<path fill="#ab174f" d="M246 184h7v5h-7zM278 184h6v5h-6zM240 189h6v6h-6zM215 205h6v5h-6zM209 210h6v5h-6zM196 215h7v5h-7zM178 220h6v6h-6zM109 226h6v5h-6zM153 226h12v5h-12zM315 231h6v5h-6zM321 236h7v5h-7zM315 246h6v5h-6zM315 251h6v6h-6zM103 267h6v5h-6zM309 272h6v5h-6zM103 282h6v6h-6zM128 282h6v6h-6zM140 282h6v6h-6zM303 282h6v6h-6zM103 288h6v5h-6zM140 288h19v5h-19zM165 288h6v5h-6zM103 293h6v5h-6zM134 293h6v5h-6zM171 293h7v5h-7zM296 293h7v5h-7zM128 298h12v5h-12zM178 298h12v5h-12zM290 298h6v5h-6zM134 303h6v5h-6zM190 303h6v5h-6zM284 303h6v5h-6zM128 308h12v5h-12zM215 313h6v6h-6zM209 319h6v5h-6zM215 324h13v5h-13zM246 324h13v5h-13z"/>
<path fill="#ad1942" d="M115 277h13v5h-13zM109 282h19v6h-19zM146 282h7v6h-7zM115 288h13v5h-13zM121 293h13v5h-13zM109 298h6v5h-6z"/>
<path fill="#ae1a35" d="M271 184h7v5h-7zM228 195h6v5h-6zM221 200h7v5h-7zM203 215h6v5h-6zM121 220h7v6h-7zM140 220h6v6h-6zM184 220h6v6h-6zM146 226h7v5h-7zM165 226h6v5h-6zM309 226h6v5h-6zM315 241h6v5h-6zM109 262h6v5h-6zM109 267h6v5h-6zM103 272h12v5h-12zM103 277h6v5h-6zM128 277h12v5h-12zM303 277h6v5h-6zM159 282h6v6h-6zM109 288h6v5h-6zM296 288h7v5h-7zM109 293h12v5h-12zM178 293h6v5h-6zM115 298h6v5h-6zM190 298h6v5h-6zM115 303h6v5h-6zM128 303h6v5h-6zM196 303h7v5h-7zM203 308h6v5h-6zM221 313h7v6h-7zM215 319h6v5h-6zM228 324h18v5h-18z"/>
<path fill="#b01b28" d="M315 236h6v5h-6zM115 272h13v5h-13zM109 277h6v5h-6zM140 277h6v5h-6zM121 298h7v5h-7zM121 303h7v5h-7z"/>
<path fill="#b11d1b" d="M215 210h6v5h-6zM128 220h12v6h-12zM190 220h6v6h-6zM171 226h7v5h-7zM153 231h6v5h-6zM115 267h6v5h-6zM128 272h6v5h-6zM153 282h6v6h-6zM296 282h7v6h-7zM171 288h7v5h-7zM184 293h6v5h-6zM290 293h6v5h-6zM284 298h6v5h-6zM209 308h6v5h-6zM271 308h7v5h-7zM265 313h6v6h-6zM221 319h7v5h-7zM259 319h6v5h-6z"/>
<path fill="#b31e0d" d="M134 272h6v5h-6zM146 277h7v5h-7z"/>
<path fill="#b42000" d="M253 184h6v5h-6zM234 195h6v5h-6zM228 200h6v5h-6zM221 205h7v5h-7zM209 215h6v5h-6zM196 220h7v6h-7zM115 226h6v5h-6zM178 226h6v5h-6zM109 231h6v5h-6zM159 231h6v5h-6zM309 231h6v5h-6zM109 257h6v5h-6zM115 262h6v5h-6zM121 267h7v5h-7zM165 282h6v6h-6zM178 288h6v5h-6zM190 293h6v5h-6zM196 298h7v5h-7zM278 303h6v5h-6zM215 308h6v5h-6zM228 319h6v5h-6zM253 319h6v5h-6z"/>
<path fill="#b62100" d="M128 267h6v5h-6zM140 272h6v5h-6z"/>
<path fill="#b72300" d="M259 184h12v5h-12zM303 200h6v5h-6zM228 205h6v5h-6zM303 215h6v5h-6zM203 220h6v6h-6zM140 226h6v5h-6zM184 226h6v5h-6zM146 231h7v5h-7zM165 231h6v5h-6zM153 236h6v5h-6zM109 251h6v6h-6zM121 262h7v5h-7zM134 267h6v5h-6zM309 267h6v5h-6zM146 272h7v5h-7zM153 277h12v5h-12zM171 282h7v6h-7zM184 288h6v5h-6zM290 288h6v5h-6zM203 303h6v5h-6zM221 308h7v5h-7zM234 319h19v5h-19z"/>
<path fill="#bc2900" d="M240 195h6v5h-6zM296 195h7v5h-7zM234 200h6v5h-6zM303 205h6v5h-6zM221 210h7v5h-7zM303 210h6v5h-6zM215 215h6v5h-6zM303 220h6v6h-6zM121 226h19v5h-19zM190 226h13v5h-13zM171 231h13v5h-13zM109 236h6v5h-6zM146 236h7v5h-7zM159 236h6v5h-6zM309 236h6v5h-6zM109 241h6v5h-6zM153 241h6v5h-6zM109 246h6v5h-6zM115 257h6v5h-6zM128 262h6v5h-6zM140 267h13v5h-13zM153 272h6v5h-6zM303 272h6v5h-6zM165 277h6v5h-6zM178 282h6v6h-6zM190 288h6v5h-6zM196 293h7v5h-7zM284 293h6v5h-6zM265 308h6v5h-6zM228 313h6v6h-6zM259 313h6v6h-6z"/>
<path fill="#bd2a00" d="M290 189h6v6h-6z"/>
<path fill="#bf2c00" d="M234 205h6v5h-6zM228 210h6v5h-6zM296 215h7v5h-7zM209 220h6v6h-6zM203 226h6v5h-6zM303 226h6v5h-6zM115 231h31v5h-31zM184 231h6v5h-6zM115 236h6v5h-6zM165 236h6v5h-6zM146 241h7v5h-7zM159 241h6v5h-6zM309 241h6v5h-6zM146 246h13v5h-13zM309 246h6v5h-6zM115 251h6v6h-6zM146 251h13v6h-13zM309 251h6v6h-6zM121 257h7v5h-7zM146 257h13v5h-13zM134 262h25v5h-25zM309 262h6v5h-6zM153 267h6v5h-6zM159 272h6v5h-6zM171 277h13v5h-13zM296 277h7v5h-7zM184 282h12v6h-12zM290 282h6v6h-6zM196 288h7v5h-7zM278 298h6v5h-6zM271 303h7v5h-7zM234 313h25v6h-25z"/>
<path fill="#c02e00" d="M284 189h6v6h-6z"/>
<path fill="#c33300" d="M240 200h6v5h-6zM240 205h6v5h-6zM234 210h6v5h-6zM296 210h7v5h-7zM221 215h13v5h-13zM290 215h6v5h-6zM215 220h6v6h-6zM296 220h7v6h-7zM209 226h6v5h-6zM190 231h13v5h-13zM303 231h6v5h-6zM121 236h25v5h-25zM171 236h7v5h-7zM115 241h13v5h-13zM140 241h6v5h-6zM165 241h6v5h-6zM115 246h13v5h-13zM140 246h6v5h-6zM159 246h6v5h-6zM121 251h7v6h-7zM140 251h6v6h-6zM159 251h6v6h-6zM128 257h18v5h-18zM159 257h6v5h-6zM309 257h6v5h-6zM159 262h6v5h-6zM159 267h12v5h-12zM303 267h6v5h-6zM165 272h13v5h-13zM184 277h6v5h-6zM196 282h7v6h-7zM284 288h6v5h-6zM203 298h6v5h-6zM259 308h6v5h-6z"/>
<path fill="#c63700" d="M246 189h7v6h-7zM271 189h13v6h-13zM296 205h7v5h-7zM240 210h6v5h-6zM234 215h12v5h-12zM284 215h6v5h-6zM221 220h7v6h-7zM290 220h6v6h-6zM215 226h6v5h-6zM296 226h7v5h-7zM203 231h6v5h-6zM178 236h12v5h-12zM303 236h6v5h-6zM128 241h12v5h-12zM171 241h7v5h-7zM303 241h6v5h-6zM128 246h12v5h-12zM165 246h6v5h-6zM128 251h12v6h-12zM165 251h6v6h-6zM165 257h6v5h-6zM165 262h13v5h-13zM171 267h13v5h-13zM178 272h12v5h-12zM296 272h7v5h-7zM190 277h6v5h-6zM290 277h6v5h-6zM278 293h6v5h-6zM228 308h6v5h-6zM253 308h6v5h-6z"/>
<path fill="#c83c00" d="M296 200h7v5h-7zM290 210h6v5h-6zM246 215h7v5h-7zM278 215h6v5h-6zM228 220h37v6h-37zM284 220h6v6h-6zM253 226h12v5h-12zM290 226h6v5h-6zM209 231h6v5h-6zM296 231h7v5h-7zM190 236h13v5h-13zM178 241h12v5h-12zM171 246h13v5h-13zM303 246h6v5h-6zM171 251h13v6h-13zM303 251h6v6h-6zM171 257h13v5h-13zM178 262h12v5h-12zM303 262h6v5h-6zM184 267h6v5h-6zM190 272h6v5h-6zM196 277h7v5h-7zM284 282h6v6h-6zM278 288h6v5h-6zM203 293h6v5h-6zM271 298h7v5h-7zM209 303h6v5h-6zM221 303h7v5h-7zM265 303h6v5h-6zM234 308h19v5h-19z"/>
<path fill="#cb4100" d="M265 189h6v6h-6zM284 210h6v5h-6zM253 215h25v5h-25zM265 220h19v6h-19zM221 226h7v5h-7zM240 226h13v5h-13zM265 226h6v5h-6zM284 226h6v5h-6zM215 231h6v5h-6zM203 236h6v5h-6zM296 236h7v5h-7zM190 241h13v5h-13zM184 246h12v5h-12zM184 251h12v6h-12zM184 257h12v5h-12zM303 257h6v5h-6zM190 262h6v5h-6zM190 267h6v5h-6zM296 267h7v5h-7zM203 288h6v5h-6zM215 303h6v5h-6z"/>
<path fill="#ce4600" d="M290 195h6v5h-6zM246 210h7v5h-7zM228 226h12v5h-12zM271 226h13v5h-13zM246 231h19v5h-19zM290 231h6v5h-6zM209 236h6v5h-6zM203 241h6v5h-6zM296 241h7v5h-7zM196 246h7v5h-7zM196 251h7v6h-7zM196 257h7v5h-7zM196 272h7v5h-7zM290 272h6v5h-6zM284 277h6v5h-6zM203 282h6v6h-6zM278 282h6v6h-6zM271 293h7v5h-7zM259 303h6v5h-6z"/>
<path fill="#d04c00" d="M271 195h7v5h-7zM278 210h6v5h-6zM221 231h7v5h-7zM240 231h6v5h-6zM265 231h6v5h-6zM284 231h6v5h-6zM215 236h6v5h-6zM209 241h6v5h-6zM203 246h6v5h-6zM296 246h7v5h-7zM203 251h6v6h-6zM296 251h7v6h-7zM203 257h6v5h-6zM196 262h7v5h-7zM296 262h7v5h-7zM196 267h7v5h-7zM203 277h6v5h-6zM253 303h6v5h-6z"/>
<path fill="#d35100" d="M253 189h12v6h-12zM278 195h12v5h-12zM290 205h6v5h-6zM271 210h7v5h-7zM228 231h12v5h-12zM271 231h13v5h-13zM246 236h13v5h-13zM290 236h6v5h-6zM215 241h6v5h-6zM209 246h6v5h-6zM209 251h6v6h-6zM296 257h7v5h-7zM271 288h7v5h-7zM209 298h6v5h-6zM265 298h6v5h-6zM228 303h25v5h-25z"/>
<path fill="#d55700" d="M265 195h6v5h-6zM284 205h6v5h-6zM253 210h6v5h-6zM265 210h6v5h-6zM221 236h7v5h-7zM240 236h6v5h-6zM259 236h6v5h-6zM209 257h6v5h-6zM290 267h6v5h-6zM203 272h6v5h-6zM209 293h6v5h-6z"/>
<path fill="#d85e00" d="M271 200h19v5h-19zM271 205h13v5h-13zM259 210h6v5h-6zM228 236h12v5h-12zM265 236h6v5h-6zM284 236h6v5h-6zM221 241h7v5h-7zM290 241h6v5h-6zM215 246h6v5h-6zM215 251h6v6h-6zM215 257h6v5h-6zM203 262h6v5h-6zM203 267h6v5h-6zM284 272h6v5h-6zM278 277h6v5h-6zM209 282h6v6h-6zM271 282h7v6h-7zM209 288h6v5h-6zM265 293h6v5h-6zM215 298h6v5h-6zM259 298h6v5h-6z"/>
<path fill="#da6500" d="M246 195h7v5h-7zM290 200h6v5h-6zM246 205h7v5h-7zM271 236h7v5h-7zM228 241h6v5h-6zM240 241h19v5h-19zM221 246h7v5h-7zM290 262h6v5h-6zM209 277h6v5h-6zM221 298h7v5h-7zM253 298h6v5h-6z"/>
<path fill="#dd6c00" d="M265 200h6v5h-6zM265 205h6v5h-6zM278 236h6v5h-6zM234 241h6v5h-6zM259 241h6v5h-6zM228 246h6v5h-6zM221 251h7v6h-7zM209 262h6v5h-6zM209 272h6v5h-6zM215 277h6v5h-6zM215 282h6v6h-6zM215 288h6v5h-6zM265 288h6v5h-6zM215 293h6v5h-6zM259 293h6v5h-6zM228 298h25v5h-25z"/>
<path fill="#df7300" d="M259 195h6v5h-6zM265 241h6v5h-6zM234 246h25v5h-25zM290 246h6v5h-6zM228 251h6v6h-6zM221 257h7v5h-7zM290 257h6v5h-6zM215 262h6v5h-6zM209 267h6v5h-6zM284 267h6v5h-6zM215 272h6v5h-6zM271 277h7v5h-7z"/>
<path fill="#e27b00" d="M246 200h7v5h-7zM253 205h12v5h-12zM284 241h6v5h-6zM234 251h25v6h-25zM290 251h6v6h-6zM215 267h6v5h-6zM278 272h6v5h-6zM221 282h7v6h-7zM265 282h6v6h-6zM259 288h6v5h-6zM221 293h7v5h-7zM253 293h6v5h-6z"/>
<path fill="#e37f00" d="M221 277h7v5h-7z"/>
<path fill="#e48300" d="M253 195h6v5h-6zM271 241h7v5h-7zM259 246h6v5h-6zM246 257h7v5h-7zM221 262h7v5h-7zM221 288h7v5h-7zM234 293h19v5h-19z"/>
<path fill="#e58700" d="M228 257h6v5h-6zM221 272h7v5h-7z"/>
<path fill="#e68b00" d="M259 251h6v6h-6zM284 262h6v5h-6zM265 277h6v5h-6zM259 282h6v6h-6zM246 288h13v5h-13zM228 293h6v5h-6z"/>
<path fill="#e88f00" d="M234 257h12v5h-12zM221 267h7v5h-7zM228 277h6v5h-6zM228 282h18v6h-18zM234 288h12v5h-12z"/>
<path fill="#e99400" d="M253 200h6v5h-6zM278 241h6v5h-6zM265 246h6v5h-6zM284 246h6v5h-6zM253 257h6v5h-6zM246 262h7v5h-7zM278 267h6v5h-6zM271 272h7v5h-7zM246 282h13v6h-13z"/>
<path fill="#ea9800" d="M240 277h6v5h-6zM228 288h6v5h-6z"/>
<path fill="#eb9d00" d="M259 200h6v5h-6zM259 257h6v5h-6zM284 257h6v5h-6zM234 277h6v5h-6zM253 277h12v5h-12z"/>
<path fill="#eca100" d="M228 262h6v5h-6zM228 272h6v5h-6zM246 277h7v5h-7z"/>
<path fill="#eda600" d="M271 246h7v5h-7zM265 251h6v6h-6zM284 251h6v6h-6zM253 262h6v5h-6z"/>
<path fill="#efab00" d="M234 262h12v5h-12zM228 267h6v5h-6zM246 267h7v5h-7zM240 272h13v5h-13z"/>
<path fill="#f0b000" d="M278 246h6v5h-6zM265 257h6v5h-6zM259 262h6v5h-6zM278 262h6v5h-6zM253 267h12v5h-12zM234 272h6v5h-6zM253 272h18v5h-18z"/>
<path fill="#f1b500" d="M234 267h12v5h-12z"/>
<path fill="#f2ba00" d="M265 262h6v5h-6zM265 267h13v5h-13z"/>
<path fill="#f4c400" d="M271 251h13v6h-13zM278 257h6v5h-6z"/>
<path fill="#f9db00" d="M271 257h7v5h-7zM271 262h7v5h-7z"/>
</g>
<g fill="none" stroke="#1498fa" stroke-width="1" shape-rendering="crispEdges">
<path d="M89.5 103.0L92.0 97.2L98.2 93.1L103.9 91.0L112.0 92.7L123.2 94.3L130.8 95.8L139.5 93.7L143.2 93.7L149.5 94.7L155.8 97.2L162.0 97.8L168.2 96.8L174.5 97.8L179.5 97.8L180.8 90.6L183.2 93.7L187.0 96.8L190.8 97.8L193.2 94.7L197.0 94.7L198.2 98.9L193.2 101.4L190.8 104.0L187.0 106.1L183.2 110.2L181.4 116.5L183.9 120.6L189.5 121.6L193.2 124.1L197.0 124.7L197.0 129.9L199.5 132.4L200.8 130.9L200.8 125.8L203.2 121.6L201.4 117.5L202.6 113.4L202.0 109.2L207.0 109.6L212.0 112.3L212.6 116.9L214.5 117.5L217.6 113.8L219.5 116.5L222.6 122.7L227.0 125.8L229.5 129.9L230.0 131.3L222.8 135.7L215.4 138.6L214.8 142.9L212.5 149.6L207.4 158.2L203.8 162.0L202.2 168.6L199.4 173.8L199.2 182.6L199.2 186.2L197.6 185.8L196.1 181.2L195.8 178.1L194.5 176.4L192.6 177.1L189.5 175.8L187.6 178.1L185.8 177.9L182.0 177.5L178.2 181.0L177.6 186.8L177.2 192.0L178.9 198.2L181.4 200.6L184.5 200.0L186.4 195.5L187.0 194.4L190.8 194.0L190.1 199.2L189.1 205.4L192.0 205.8L195.1 207.1L195.1 213.7L194.9 216.2L196.8 219.9L199.5 219.5L200.8 218.8L202.6 220.9M215.4 138.6L209.6 143.7L203.8 146.7L198.2 150.3L196.2 146.7L191.4 140.1L188.9 137.6L185.1 139.7L187.7 142.3L192.4 144.5L190.9 148.9L195.0 145.5L198.2 150.3M175.3 131.4L178.2 127.7L178.7 135.0L176.0 132.8M180.4 137.9L184.1 134.7M226.4 136.5L228.5 132.8L231.5 133.5L232.9 143.0L227.8 141.6L226.4 136.5M216.1 140.1L219.8 138.6L224.2 139.4L222.7 143.7L218.3 145.2L216.9 147.4M145.9 101.9L152.5 101.5L149.7 104.7L156.3 109.4L162.8 110.3L158.1 111.2L151.6 111.6M160.0 117.8L169.4 117.2L173.1 119.7L172.2 123.4L175.9 121.6M202.6 220.9L201.4 220.9L199.5 223.4L197.6 222.0L195.8 221.3L193.2 217.8L192.0 214.7L190.1 211.6L187.0 210.2L184.2 207.9L181.4 205.0L178.9 206.0L175.8 204.0L172.6 202.3L169.5 199.2L167.6 196.1L167.6 192.0L164.5 185.8L162.6 182.6L159.5 178.5L158.2 173.8L156.1 172.9L156.4 176.4L158.9 181.6L161.4 187.8L162.6 190.5L161.8 189.9L159.5 185.8L157.0 181.6L155.8 177.5L153.9 173.3L153.0 170.9L151.4 168.2L148.9 167.1L147.2 163.0L146.4 160.3L144.8 156.8L144.1 154.7L144.2 149.6L144.5 142.9L143.6 138.6L145.8 138.2L146.4 140.2L145.5 136.7L143.2 135.1L140.1 133.0L139.5 129.9L137.0 125.8L135.1 123.7L132.6 119.6L130.1 117.5L127.6 117.1L124.5 115.0L119.5 114.4L116.4 112.7L113.9 114.4L110.1 115.8L109.5 112.3L107.0 116.5L103.9 120.6L101.4 122.7L97.0 124.7L93.9 125.3L97.0 123.1L99.5 121.6L102.6 117.5L100.8 117.1L97.0 116.5L97.0 114.0L93.2 112.9L92.0 110.7L93.9 108.2L98.2 106.7L98.2 104.7L95.8 105.1L92.0 105.1L89.5 103.0M203.1 221.3L205.8 216.8L210.4 216.6L210.1 213.7L214.5 216.2L219.1 217.8L223.2 219.3L226.5 223.8L230.8 226.5L233.8 233.9L237.0 238.5L241.0 242.6L248.2 245.5L253.2 248.4L256.5 254.4L252.6 264.6L251.2 277.6L246.9 285.0L239.6 290.2L236.6 299.5L230.8 311.3L228.2 316.1L222.1 322.9L217.8 331.6L215.8 337.8L213.2 343.4L213.2 349.8L216.2 351.2L210.4 349.2L207.5 343.4L209.0 325.8L209.9 302.4L211.0 277.6L207.0 270.6L203.1 263.1L199.4 247.0L201.1 229.6L203.1 221.3M208.2 76.7L214.5 74.0L218.2 70.9L224.5 68.9L237.0 67.8L249.5 65.8L262.0 65.6L272.0 68.3L277.0 69.9L284.5 69.9L278.2 73.0L274.5 77.2L275.8 81.3L273.2 84.4L272.0 88.5L269.5 90.6L272.0 92.7L267.0 94.7L264.5 97.2L259.5 97.8L255.8 100.9L252.0 102.6L249.5 104.0L247.6 108.2L245.8 113.4L243.9 114.4L240.8 112.7L237.6 110.2L235.1 106.1L232.6 100.9L233.2 96.8L235.8 94.3L231.4 92.7L230.8 88.5L228.2 84.4L224.5 81.3L217.0 81.3L212.0 79.6L208.2 76.7M269.5 103.0L272.0 101.1L277.0 101.6L280.8 101.6L282.5 104.0L279.5 106.1L275.8 107.1L271.4 106.1L272.0 104.0L269.5 103.0M199.5 86.0L204.5 87.9L209.5 90.6L214.5 93.1L218.2 97.8L222.0 100.9L219.5 104.0L216.4 108.2L218.2 110.2L214.5 109.6L209.5 106.1L206.4 105.1L202.0 104.0L207.0 102.0L208.2 97.8L203.2 93.7L197.0 93.7L193.2 91.6L188.2 90.6L187.6 87.5L193.2 86.0L199.5 86.0M153.2 93.7L158.2 96.8L164.5 96.2L169.5 96.0L172.6 93.7L168.9 91.6L168.2 87.9L162.0 87.5L157.0 87.5L152.0 88.9L152.6 91.0L153.2 93.7M143.2 89.6L146.4 91.2L148.9 90.0L152.6 85.4L148.2 84.4L143.9 85.8L143.2 89.6M187.0 80.3L193.2 79.2L199.5 80.9L202.0 79.2L204.5 76.1L209.5 74.0L217.0 70.9L222.0 67.8L212.0 66.8L199.5 66.8L187.0 68.9L184.5 70.9L189.5 74.0L187.0 77.2L187.0 80.3M179.5 82.3L184.5 84.0L193.2 84.4L199.5 84.0L199.5 81.9L193.2 81.3L184.5 80.7L179.5 82.3M174.5 85.4L178.2 89.6L172.0 90.6L169.5 87.5L174.5 85.4M153.2 80.9L159.5 84.4L167.0 83.4L164.5 80.7L158.2 80.3L153.2 80.9M190.8 106.1L194.5 107.8L198.2 106.1L197.0 103.0L193.2 102.6L190.8 106.1M193.2 193.4L196.4 190.9L199.5 190.9L203.2 194.0L206.8 196.7L202.6 197.5L202.0 195.7L199.5 193.4L197.0 192.4L194.5 193.4L193.2 193.4M206.4 200.2L208.2 197.3L212.0 197.5L213.9 199.8L212.0 200.6L210.1 201.9L208.9 200.9L206.4 200.2M201.6 200.6L204.1 201.3L202.6 201.7L201.6 200.6M215.5 200.4L217.4 200.6L215.8 201.5L215.5 200.4M139.1 133.4L143.2 135.1L145.1 138.2L142.6 137.6L139.1 133.4M104.5 196.7L105.8 198.2L104.9 199.2L104.5 196.7M74.5 95.8L79.5 98.3L87.0 101.6L83.9 105.1L79.5 104.7L76.4 102.0L74.5 103.0M524.5 103.0L523.2 105.5L521.4 104.7L523.2 109.2L517.0 110.7L512.0 114.4L507.0 114.8L503.9 111.3L504.5 109.2L499.5 112.9L495.1 119.6L493.9 124.7L494.5 129.9L495.4 133.0L497.6 128.9L499.5 125.8L502.0 122.7L503.2 118.9L502.6 117.5L501.4 114.4L499.5 111.3L495.8 111.3L492.6 115.4L489.5 116.5L485.1 115.8L478.2 116.0L474.5 119.6L471.4 123.7L470.8 126.8L475.1 127.8L476.4 130.9L475.1 135.1L474.5 138.8L472.0 143.3L468.9 147.5L465.8 150.0L464.6 150.0L462.8 151.9L459.0 159.4L456.2 165.0L453.4 157.5L449.6 155.6L445.9 158.4L450.6 163.1L450.0 170.6L448.7 185.6L450.6 186.6L447.8 186.6L437.4 193.1L434.6 194.1L433.7 198.7L432.8 216.6L429.0 216.6L423.4 210.0L424.3 225.0L426.2 232.5L423.0 223.1L421.5 214.7L420.0 206.2L415.9 199.7L411.2 194.1L400.9 205.3L395.3 220.3L394.3 219.4L391.5 208.1L388.7 196.9L383.1 191.2L378.4 188.4L370.9 187.5L365.3 184.7L362.4 180.9L361.5 178.1L363.4 183.7L367.1 187.5L372.8 188.4L372.8 195.9L365.3 206.2L358.7 210.9L354.0 209.1L353.0 207.9L352.0 203.3L350.1 198.2L348.2 194.0L347.6 188.9L345.1 184.7L343.2 180.6L343.0 177.5L342.4 180.6L341.4 179.5L340.1 176.6M340.1 176.6L341.4 181.0L343.2 187.2L345.8 194.0L346.1 199.2L348.2 205.8L350.8 209.5L353.5 213.7L353.5 215.1L355.8 216.8L359.5 215.3L363.5 214.1L363.2 216.8L360.8 225.1L358.9 230.2L354.5 236.4L352.0 240.6L350.1 243.7L348.2 248.8L348.9 253.0L348.9 257.1L350.1 261.3L350.1 268.5L348.2 273.7L345.8 275.7L343.9 278.8L343.2 284.0L343.9 288.1L340.8 291.2L340.5 295.4L338.9 299.5L335.8 304.7L332.6 308.4L328.2 308.8L324.5 310.5L322.6 309.2L322.0 304.7L320.1 297.5L318.2 292.3L317.6 285.0L315.1 275.7L314.2 271.2L316.4 264.4L316.4 259.2L314.9 250.9L313.9 246.8L311.4 242.6L310.8 238.5L311.6 234.4L311.4 230.2L310.1 229.2L308.2 229.4L306.4 227.7L304.9 225.5L302.0 225.5L298.2 227.7L295.8 228.2L293.2 228.0L290.1 229.4L288.2 228.2L285.1 224.4L283.2 220.9L282.6 218.2L280.8 215.7L278.6 213.1L277.9 208.1L278.9 205.4L279.1 199.2L278.2 195.1L279.5 189.9L281.0 185.8L283.2 181.2L287.0 177.5L287.4 173.3L288.9 169.6L291.0 168.2L292.2 164.4L295.8 165.5L298.2 165.7L300.8 163.0L304.5 162.2L308.2 162.0L312.0 161.5L313.2 162.4L312.2 167.5L313.2 169.2L315.8 170.7L318.6 171.7L321.4 174.4L323.9 175.4L324.5 172.3L326.4 170.7L328.2 171.3L330.8 172.9L333.9 174.0L337.0 174.0L339.5 174.0L340.1 176.6M338.7 176.9L343.4 166.6L338.7 164.7L334.0 157.2L329.3 157.2L328.4 160.9L324.6 158.1L321.8 153.4L317.1 147.8L319.0 153.4L320.9 158.1L316.2 152.5L308.7 149.7L304.0 152.5L298.4 160.9L291.8 163.7L288.1 158.1L289.9 150.6L298.4 144.1L294.6 137.5M334.0 155.3L336.8 146.9L349.0 142.7L349.0 154.4L334.0 155.3M373.4 145.0L376.2 143.1L375.3 148.7L373.4 145.0M306.5 116.1L314.0 120.4L318.7 123.2L321.5 116.7L324.3 107.3L329.0 104.5L326.2 112.9L335.6 116.7L318.7 127.9L314.0 123.2L308.4 123.2M293.4 141.1L295.3 139.2L308.4 123.2L306.5 116.1L313.1 107.3L320.6 97.9L329.0 94.6L334.6 93.2L340.3 97.0L349.6 100.7L351.5 101.7L340.3 102.6L343.1 106.4L349.6 106.4L354.3 103.6L356.2 98.9L356.2 102.6L362.8 97.9L375.9 97.0L379.6 96.1L385.3 92.3L391.8 91.4L394.6 90.4L404.0 88.6L398.2 88.9L400.8 86.5L407.0 85.8L408.2 83.4L414.5 81.9L422.0 80.7L429.5 77.8L433.2 79.6L439.5 80.3L440.8 85.4L437.0 85.8L441.4 86.5L447.0 86.9L453.2 86.5L458.2 88.5L462.0 91.6L465.8 90.6L470.8 90.6L474.5 88.5L482.0 88.9L487.0 90.6L490.8 91.8L498.2 92.3L499.5 94.3L505.1 94.5L512.0 93.9L513.2 95.8L519.5 94.3L524.5 95.8M292.6 134.9L295.1 134.2L298.2 133.4L301.1 132.6L300.1 132.0L301.6 129.5L299.9 128.9L299.2 126.8L297.6 124.7L297.0 122.7L295.8 122.7L297.0 119.4L294.5 119.1L295.8 117.3L293.2 117.3L292.0 120.0L292.6 122.7L293.5 124.7L295.5 124.9L295.8 127.8L293.9 128.2L294.2 130.3L293.0 131.3L295.1 132.0L294.1 132.8L292.6 134.9M287.0 131.6L289.5 131.6L291.6 130.5L292.0 127.8L292.5 125.8L291.4 124.3L289.2 124.3L288.9 126.0L287.0 126.4L287.4 128.2L287.6 129.9L287.0 131.6M313.2 73.8L317.0 78.2L320.8 79.8L323.2 76.1L327.0 76.5L325.8 74.0L333.2 72.6L324.5 72.0L318.2 73.0L313.2 73.8M363.9 90.6L366.4 92.0L371.4 92.3L368.2 88.5L369.5 84.4L374.5 81.3L382.0 79.6L385.8 79.8L380.8 82.3L374.5 84.4L370.8 87.5L367.0 88.5L363.9 90.6M418.2 74.7L424.5 76.5L430.8 76.1L428.2 73.4L420.8 71.4L418.2 74.7M470.8 82.3L478.2 83.8L487.0 82.9L482.0 81.3L474.5 81.3L470.8 82.3M358.2 145.4L360.1 143.3L363.2 141.7L365.8 142.3L365.8 145.4L363.2 146.4L362.6 149.6L365.1 150.6L366.4 154.7L365.8 157.8L367.0 161.3L363.9 162.4L361.4 160.9L360.8 157.8L361.4 154.7L359.1 150.6L358.2 147.5L358.2 145.4M462.2 169.2L463.2 173.8L464.5 169.6L467.0 169.2L468.9 169.2L470.8 166.9L473.2 166.1L475.5 164.7L475.8 159.9L477.0 156.8L476.1 152.9L474.5 154.7L474.2 158.2L471.1 162.0L469.5 164.4L465.8 165.1L463.2 167.5L462.2 169.2M474.5 152.7L476.0 150.6L478.6 151.6L481.4 148.9L479.8 147.5L476.8 144.4L476.4 148.9L474.9 149.6L474.5 152.7M477.0 143.3L478.6 141.7L478.0 139.2L480.1 137.1L478.5 132.0L478.6 128.5L477.6 126.2L477.0 128.9L477.0 135.1L477.0 143.3M450.6 200.6L451.5 209.1L449.6 206.2L450.6 200.6M399.0 220.3L398.1 225.9M453.4 219.4L455.3 225.0L451.5 225.0L453.4 219.4M446.8 215.6L447.8 217.5M417.1 226.6L425.6 244.4L431.2 244.4L426.5 234.1L417.1 226.6M445.3 224.7L434.9 239.7L442.4 245.3L446.2 235.9L445.3 224.7M431.2 251.5L434.9 254.7L441.5 254.3L436.8 252.8L431.2 251.5M451.8 224.7L454.6 220.0L455.6 225.2L451.8 224.7M462.1 241.6L464.9 243.4L475.3 243.4L486.5 259.4L473.4 253.7L462.1 241.6M448.1 307.7L443.4 305.3L441.5 293.1L442.4 281.9L451.8 274.4L455.6 268.4L459.3 269.7L464.0 261.6L468.7 265.0L471.5 272.1L476.2 260.3L479.0 267.8L483.7 279.1L489.3 292.2L489.3 300.6L486.5 310.0L487.6 311.9L487.0 315.7L484.5 316.7L482.4 319.2L480.5 317.5L478.2 318.6L475.1 317.1L473.2 312.3L471.6 310.9L471.6 306.1L470.1 308.8L468.9 310.5L467.0 306.1L463.9 303.7L460.8 304.1L457.0 305.3L453.9 308.6L449.5 308.8L447.0 310.9L444.5 310.9L448.1 307.7M480.4 322.9L482.6 323.5L484.8 323.1L484.5 327.0L482.6 328.5L481.1 326.4L480.4 322.9M515.4 309.9L517.4 313.0L519.2 314.6L521.8 316.5L522.4 317.5L520.8 320.2L519.9 323.3L518.0 323.9L518.0 320.8L516.8 319.8L517.9 316.7L515.8 310.9L515.4 309.9M515.4 322.5L517.2 323.9L516.4 327.4L513.5 330.1L512.6 333.7L510.1 334.9L507.6 333.7L509.8 329.9L512.6 327.0L514.8 323.3L515.4 322.5M361.1 263.3L362.4 270.6L361.4 273.7L360.1 280.9L358.5 289.8L356.1 291.2L354.2 289.2L353.6 284.0L354.9 279.9L354.5 273.7L357.0 271.0L359.5 267.5L361.1 263.3M74.5 399.6L89.5 399.4L101.4 398.6L102.6 399.0L104.5 401.1M74.5 413.1L102.0 413.3L115.4 414.9L112.0 408.1L108.2 403.0L109.7 398.6L119.7 394.5L134.0 391.6L145.4 390.1L159.8 392.0L168.2 393.0L174.0 388.7L180.0 389.4L196.2 389.4L201.9 387.5L209.4 389.4L213.8 385.6L215.6 378.1L216.9 375.0L221.2 371.2L225.0 369.4L226.2 371.9L223.1 378.7L223.1 385.0L223.1 391.9L232.5 396.2L240.0 397.5L250.0 398.1L260.0 398.1L259.8 397.4L266.9 393.0L281.1 387.2L295.4 381.6L299.8 380.2L304.0 383.1L318.2 383.3L331.1 383.1L338.2 380.2L346.9 381.6L355.4 377.3L365.4 374.4L374.0 376.7L385.4 378.7L386.9 382.9L391.1 380.0L402.6 375.9L421.1 375.0L439.8 375.0L446.9 376.7L455.4 374.4L471.1 375.9L488.2 379.6L499.8 381.4L511.1 385.8L508.2 393.0L502.6 398.6L504.0 405.8L508.2 408.7L516.9 410.2L524.5 412.7M502.6 398.6L510.8 397.8L524.5 398.6M223.1 391.9L216.2 394.4L196.9 397.5L206.9 403.7L217.5 406.2L226.2 407.5L237.5 407.5L248.8 406.2L255.0 404.4L260.0 403.1L259.8 397.4M220.0 403.7L227.5 403.1L230.0 401.2L238.8 398.1M230.0 401.2L244.4 400.0L245.0 403.1L235.0 403.1M206.9 385.0L212.5 380.6L213.8 382.5L210.6 387.5L206.9 385.0M216.2 377.5L220.0 380.0L223.1 385.0"/>
</g>
<g shape-rendering="crispEdges">
<rect x="535" y="417" width="23" height="3" fill="#100006"/>
<rect x="535" y="414" width="23" height="3" fill="#1c0013"/>
<rect x="535" y="411" width="23" height="3" fill="#24001f"/>
<rect x="535" y="409" width="23" height="2" fill="#2a002c"/>
<rect x="535" y="406" width="23" height="3" fill="#300038"/>
<rect x="535" y="403" width="23" height="3" fill="#350044"/>
<rect x="535" y="400" width="23" height="3" fill="#390050"/>
<rect x="535" y="397" width="23" height="3" fill="#3e005c"/>
<rect x="535" y="394" width="23" height="3" fill="#420067"/>
<rect x="535" y="392" width="23" height="2" fill="#450073"/>
<rect x="535" y="389" width="23" height="3" fill="#49007e"/>
<rect x="535" y="386" width="23" height="3" fill="#4c0088"/>
<rect x="535" y="383" width="23" height="3" fill="#500093"/>
<rect x="535" y="380" width="23" height="3" fill="#53009d"/>
<rect x="535" y="377" width="23" height="3" fill="#5600a7"/>
<rect x="535" y="375" width="23" height="2" fill="#5900b0"/>
<rect x="535" y="372" width="23" height="3" fill="#5c01b9"/>
<rect x="535" y="369" width="23" height="3" fill="#5e01c1"/>
<rect x="535" y="366" width="23" height="3" fill="#6101c9"/>
<rect x="535" y="363" width="23" height="3" fill="#6401d0"/>
<rect x="535" y="360" width="23" height="3" fill="#6601d7"/>
<rect x="535" y="358" width="23" height="2" fill="#6901de"/>
<rect x="535" y="355" width="23" height="3" fill="#6b01e4"/>
<rect x="535" y="352" width="23" height="3" fill="#6d02e9"/>
<rect x="535" y="349" width="23" height="3" fill="#7002ee"/>
<rect x="535" y="346" width="23" height="3" fill="#7202f2"/>
<rect x="535" y="343" width="23" height="3" fill="#7402f6"/>
<rect x="535" y="341" width="23" height="2" fill="#7603f9"/>
<rect x="535" y="338" width="23" height="3" fill="#7803fb"/>
<rect x="535" y="335" width="23" height="3" fill="#7a03fd"/>
<rect x="535" y="332" width="23" height="3" fill="#7c03fe"/>
<rect x="535" y="329" width="23" height="3" fill="#7e04ff"/>
<rect x="535" y="326" width="23" height="3" fill="#8004ff"/>
<rect x="535" y="324" width="23" height="2" fill="#8205fe"/>
<rect x="535" y="321" width="23" height="3" fill="#8405fd"/>
<rect x="535" y="318" width="23" height="3" fill="#8605fb"/>
<rect x="535" y="315" width="23" height="3" fill="#8806f9"/>
<rect x="535" y="312" width="23" height="3" fill="#8a06f6"/>
<rect x="535" y="309" width="23" height="3" fill="#8c07f2"/>
<rect x="535" y="307" width="23" height="2" fill="#8e07ee"/>
<rect x="535" y="304" width="23" height="3" fill="#8f08e9"/>
<rect x="535" y="301" width="23" height="3" fill="#9109e4"/>
<rect x="535" y="298" width="23" height="3" fill="#9309de"/>
<rect x="535" y="295" width="23" height="3" fill="#950ad7"/>
<rect x="535" y="292" width="23" height="3" fill="#960bd0"/>
<rect x="535" y="290" width="23" height="2" fill="#980bc9"/>
<rect x="535" y="287" width="23" height="3" fill="#9a0cc1"/>
<rect x="535" y="284" width="23" height="3" fill="#9b0db9"/>
<rect x="535" y="281" width="23" height="3" fill="#9d0eb0"/>
<rect x="535" y="278" width="23" height="3" fill="#9f0fa7"/>
<rect x="535" y="275" width="23" height="3" fill="#a0109d"/>
<rect x="535" y="273" width="23" height="2" fill="#a21193"/>
<rect x="535" y="270" width="23" height="3" fill="#a31288"/>
<rect x="535" y="267" width="23" height="3" fill="#a5137e"/>
<rect x="535" y="264" width="23" height="3" fill="#a61473"/>
<rect x="535" y="261" width="23" height="3" fill="#a81567"/>
<rect x="535" y="258" width="23" height="3" fill="#a9165c"/>
<rect x="535" y="256" width="23" height="2" fill="#ab1750"/>
<rect x="535" y="253" width="23" height="3" fill="#ac1844"/>
<rect x="535" y="250" width="23" height="3" fill="#ae1a38"/>
<rect x="535" y="247" width="23" height="3" fill="#af1b2c"/>
<rect x="535" y="244" width="23" height="3" fill="#b11c1f"/>
<rect x="535" y="241" width="23" height="3" fill="#b21e13"/>
<rect x="535" y="238" width="23" height="3" fill="#b41f06"/>
<rect x="535" y="236" width="23" height="2" fill="#b52100"/>
<rect x="535" y="233" width="23" height="3" fill="#b62200"/>
<rect x="535" y="230" width="23" height="3" fill="#b82400"/>
<rect x="535" y="227" width="23" height="3" fill="#b92500"/>
<rect x="535" y="224" width="23" height="3" fill="#bb2700"/>
<rect x="535" y="221" width="23" height="3" fill="#bc2900"/>
<rect x="535" y="219" width="23" height="2" fill="#bd2b00"/>
<rect x="535" y="216" width="23" height="3" fill="#bf2c00"/>
<rect x="535" y="213" width="23" height="3" fill="#c02e00"/>
<rect x="535" y="210" width="23" height="3" fill="#c13000"/>
<rect x="535" y="207" width="23" height="3" fill="#c33200"/>
<rect x="535" y="204" width="23" height="3" fill="#c43400"/>
<rect x="535" y="202" width="23" height="2" fill="#c53600"/>
<rect x="535" y="199" width="23" height="3" fill="#c63900"/>
<rect x="535" y="196" width="23" height="3" fill="#c83b00"/>
<rect x="535" y="193" width="23" height="3" fill="#c93d00"/>
<rect x="535" y="190" width="23" height="3" fill="#ca3f00"/>
<rect x="535" y="187" width="23" height="3" fill="#cb4200"/>
<rect x="535" y="185" width="23" height="2" fill="#cd4400"/>
<rect x="535" y="182" width="23" height="3" fill="#ce4700"/>
<rect x="535" y="179" width="23" height="3" fill="#cf4900"/>
<rect x="535" y="176" width="23" height="3" fill="#d04c00"/>
<rect x="535" y="173" width="23" height="3" fill="#d24f00"/>
<rect x="535" y="170" width="23" height="3" fill="#d35100"/>
<rect x="535" y="168" width="23" height="2" fill="#d45400"/>
<rect x="535" y="165" width="23" height="3" fill="#d55700"/>
<rect x="535" y="162" width="23" height="3" fill="#d65a00"/>
<rect x="535" y="159" width="23" height="3" fill="#d85d00"/>
<rect x="535" y="156" width="23" height="3" fill="#d96000"/>
<rect x="535" y="153" width="23" height="3" fill="#da6300"/>
<rect x="535" y="151" width="23" height="2" fill="#db6700"/>
<rect x="535" y="148" width="23" height="3" fill="#dc6a00"/>
<rect x="535" y="145" width="23" height="3" fill="#dd6d00"/>
<rect x="535" y="142" width="23" height="3" fill="#df7100"/>
<rect x="535" y="139" width="23" height="3" fill="#e07400"/>
<rect x="535" y="136" width="23" height="3" fill="#e17800"/>
<rect x="535" y="134" width="23" height="2" fill="#e27b00"/>
<rect x="535" y="131" width="23" height="3" fill="#e37f00"/>
<rect x="535" y="128" width="23" height="3" fill="#e48300"/>
<rect x="535" y="125" width="23" height="3" fill="#e58700"/>
<rect x="535" y="122" width="23" height="3" fill="#e68b00"/>
<rect x="535" y="119" width="23" height="3" fill="#e88f00"/>
<rect x="535" y="117" width="23" height="2" fill="#e99300"/>
<rect x="535" y="114" width="23" height="3" fill="#ea9700"/>
<rect x="535" y="111" width="23" height="3" fill="#eb9b00"/>
<rect x="535" y="108" width="23" height="3" fill="#eca000"/>
<rect x="535" y="105" width="23" height="3" fill="#eda400"/>
<rect x="535" y="102" width="23" height="3" fill="#eea900"/>
<rect x="535" y="100" width="23" height="2" fill="#efad00"/>
<rect x="535" y="97" width="23" height="3" fill="#f0b200"/>
<rect x="535" y="94" width="23" height="3" fill="#f1b700"/>
<rect x="535" y="91" width="23" height="3" fill="#f2bb00"/>
<rect x="535" y="88" width="23" height="3" fill="#f3c000"/>
<rect x="535" y="85" width="23" height="3" fill="#f4c500"/>
<rect x="535" y="83" width="23" height="2" fill="#f5ca00"/>
<rect x="535" y="80" width="23" height="3" fill="#f6cf00"/>
<rect x="535" y="77" width="23" height="3" fill="#f7d500"/>
<rect x="535" y="74" width="23" height="3" fill="#f8da00"/>
<rect x="535" y="71" width="23" height="3" fill="#f9e000"/>
<rect x="535" y="68" width="23" height="3" fill="#fae500"/>
<rect x="535" y="66" width="23" height="2" fill="#fbeb00"/>
<rect x="535" y="63" width="23" height="3" fill="#fcf000"/>
<rect x="535" y="60" width="23" height="3" fill="#fef600"/>
<rect x="535" y="57" width="23" height="3" fill="#fffc00"/>
<path d="M535 359.5h5M558 359.5h-5M535 298.5h5M558 298.5h-5M535 238.5h5M558 238.5h-5M535 178.5h5M558 178.5h-5M535 117.5h5M558 117.5h-5" stroke="#000" stroke-width="1" fill="none"/>
<rect x="74.5" y="57.5" width="450" height="362" fill="none" stroke="#000" stroke-width="1"/>
<rect x="535.5" y="57.5" width="22" height="362" fill="none" stroke="#000" stroke-width="1"/>
</g>
<text x="297" y="32" text-anchor="middle">VTEC / TECU 20200120_020.63900</text>
<text x="297" y="470" text-anchor="middle">Longitude / deg</text>
<text transform="translate(18,238.5) rotate(-90)" text-anchor="middle" letter-spacing="0.3">Latitude / deg</text>
<text x="61.6" y="408.0" text-anchor="end">-80</text>
<text x="61.6" y="366.6" text-anchor="end">-60</text>
<text x="61.6" y="325.2" text-anchor="end">-40</text>
<text x="61.6" y="283.9" text-anchor="end">-20</text>
<text x="61.6" y="242.5" text-anchor="end">0</text>
<text x="61.6" y="201.1" text-anchor="end">20</text>
<text x="61.6" y="159.8" text-anchor="end">40</text>
<text x="61.6" y="118.4" text-anchor="end">60</text>
<text x="61.6" y="77.0" text-anchor="end">80</text>
<text x="112.0" y="443" text-anchor="middle">-150</text>
<text x="174.5" y="443" text-anchor="middle">-100</text>
<text x="237.0" y="443" text-anchor="middle">-50</text>
<text x="299.5" y="443" text-anchor="middle">0</text>
<text x="362.0" y="443" text-anchor="middle">50</text>
<text x="424.5" y="443" text-anchor="middle">100</text>
<text x="487.0" y="443" text-anchor="middle">150</text>
<text x="571" y="423.5">0</text>
<text x="571" y="363.2">5</text>
<text x="571" y="302.8">10</text>
<text x="571" y="242.5">15</text>
<text x="571" y="182.2">20</text>
<text x="571" y="121.8">25</text>
<text x="571" y="61.5">30</text>
</svg>
</body></html>
